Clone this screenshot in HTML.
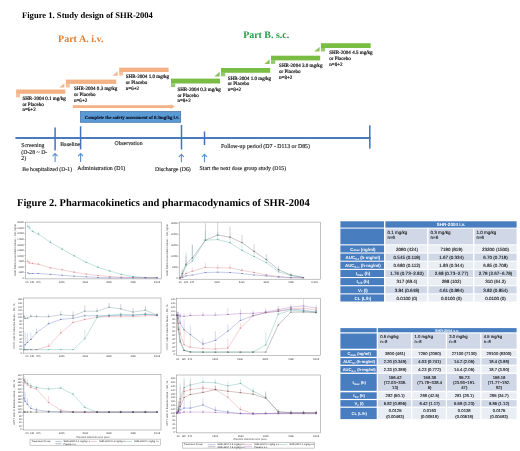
<!DOCTYPE html>
<html><head><meta charset="utf-8"><title>SHR-2004 figures</title>
<style>html,body{margin:0;padding:0;background:#fff;overflow:hidden}svg{display:block;filter:blur(0.42px)}</style>
</head><body>
<svg width="520" height="451" viewBox="0 0 520 451" text-rendering="geometricPrecision">
<rect x="0" y="0" width="520" height="451" fill="#fff"/>
<text x="22" y="18.1" font-size="8.58" fill="#000" font-family="Liberation Serif, serif" font-weight="bold">Figure 1. Study design of SHR-2004</text>
<text x="58" y="41.8" font-size="10.05" fill="#dd7f35" font-family="Liberation Serif, serif" font-weight="bold">Part A. i.v.</text>
<text x="243.2" y="38" font-size="9.92" fill="#22a045" font-family="Liberation Serif, serif" font-weight="bold">Part B. s.c.</text>
<rect x="16.1" y="89.5" width="49.2" height="4.3" fill="#f4b183"/>
<rect x="16.1" y="93.7" width="3.9" height="3.7" fill="#f4b183" opacity="0.8"/>
<text x="22.4" y="99.8" font-size="5.06" fill="#111" font-family="Liberation Serif, serif" stroke="#111" stroke-width="0.2">SHR-2004 0.1 mg/kg</text>
<text x="22.4" y="105.6" font-size="5.06" fill="#111" font-family="Liberation Serif, serif" stroke="#111" stroke-width="0.2">or Placebo</text>
<text x="22.4" y="111.4" font-size="5.06" fill="#111" font-family="Liberation Serif, serif" stroke="#111" stroke-width="0.2">n=6+2</text>
<rect x="65.9" y="79.6" width="50.3" height="4.3" fill="#f4b183"/>
<rect x="65.9" y="83.8" width="3.9" height="3.7" fill="#f4b183" opacity="0.8"/>
<polygon points="64.4,87.6 64.4,83.19999999999999 59.10000000000001,87.6" fill="#f0b894"/>
<text x="74" y="90.2" font-size="5.06" fill="#111" font-family="Liberation Serif, serif" stroke="#111" stroke-width="0.2">SHR-2004 0.3 mg/kg</text>
<text x="74" y="96.0" font-size="5.06" fill="#111" font-family="Liberation Serif, serif" stroke="#111" stroke-width="0.2">or Placebo</text>
<text x="74" y="101.8" font-size="5.06" fill="#111" font-family="Liberation Serif, serif" stroke="#111" stroke-width="0.2">n=6+2</text>
<rect x="119.2" y="67.7" width="49.4" height="4.3" fill="#f4b183"/>
<rect x="119.2" y="71.9" width="3.9" height="3.7" fill="#f4b183" opacity="0.8"/>
<polygon points="117.7,75.7 117.7,71.3 112.4,75.7" fill="#f0b894"/>
<text x="125.8" y="78.1" font-size="5.06" fill="#111" font-family="Liberation Serif, serif" stroke="#111" stroke-width="0.2">SHR-2004 1.0 mg/kg</text>
<text x="125.8" y="83.9" font-size="5.06" fill="#111" font-family="Liberation Serif, serif" stroke="#111" stroke-width="0.2">or Placebo</text>
<text x="125.8" y="89.7" font-size="5.06" fill="#111" font-family="Liberation Serif, serif" stroke="#111" stroke-width="0.2">n=6+2</text>
<rect x="171" y="78.6" width="49" height="4.9" fill="#7abd45"/>
<rect x="171" y="83.4" width="4.2" height="3.6" fill="#7abd45" opacity="0.8"/>
<text x="177.4" y="90.8" font-size="5.06" fill="#111" font-family="Liberation Serif, serif" stroke="#111" stroke-width="0.2">SHR-2004 0.3 mg/kg</text>
<text x="177.4" y="96.6" font-size="5.06" fill="#111" font-family="Liberation Serif, serif" stroke="#111" stroke-width="0.2">or Placebo</text>
<text x="177.4" y="102.4" font-size="5.06" fill="#111" font-family="Liberation Serif, serif" stroke="#111" stroke-width="0.2">n=8+2</text>
<rect x="221" y="68" width="49.2" height="4.8" fill="#7abd45"/>
<rect x="221" y="72.7" width="4.2" height="3.6" fill="#7abd45" opacity="0.8"/>
<polygon points="219.7,76.4 219.7,71.7 214.29999999999998,76.4" fill="#8cc25c"/>
<text x="227.8" y="79.6" font-size="5.06" fill="#111" font-family="Liberation Serif, serif" stroke="#111" stroke-width="0.2">SHR-2004 1.0 mg/kg</text>
<text x="227.8" y="85.4" font-size="5.06" fill="#111" font-family="Liberation Serif, serif" stroke="#111" stroke-width="0.2">or Placebo</text>
<text x="227.8" y="91.2" font-size="5.06" fill="#111" font-family="Liberation Serif, serif" stroke="#111" stroke-width="0.2">n=8+2</text>
<rect x="271" y="55.7" width="49.2" height="4.7" fill="#7abd45"/>
<rect x="271" y="60.300000000000004" width="4.2" height="3.6" fill="#7abd45" opacity="0.8"/>
<polygon points="269.7,64.0 269.7,59.3 264.3,64.0" fill="#8cc25c"/>
<text x="279.1" y="66.9" font-size="5.06" fill="#111" font-family="Liberation Serif, serif" stroke="#111" stroke-width="0.2">SHR-2004 3.0 mg/kg</text>
<text x="279.1" y="72.7" font-size="5.06" fill="#111" font-family="Liberation Serif, serif" stroke="#111" stroke-width="0.2">or Placebo</text>
<text x="279.1" y="78.5" font-size="5.06" fill="#111" font-family="Liberation Serif, serif" stroke="#111" stroke-width="0.2">n=8+2</text>
<rect x="320.9" y="43.2" width="49.7" height="4.8" fill="#7abd45"/>
<rect x="320.9" y="47.9" width="4.2" height="3.6" fill="#7abd45" opacity="0.8"/>
<polygon points="319.59999999999997,51.6 319.59999999999997,46.9 314.2,51.6" fill="#8cc25c"/>
<text x="329.3" y="54.0" font-size="5.06" fill="#111" font-family="Liberation Serif, serif" stroke="#111" stroke-width="0.2">SHR-2004 4.5 mg/kg</text>
<text x="329.3" y="59.8" font-size="5.06" fill="#111" font-family="Liberation Serif, serif" stroke="#111" stroke-width="0.2">or Placebo</text>
<text x="329.3" y="65.6" font-size="5.06" fill="#111" font-family="Liberation Serif, serif" stroke="#111" stroke-width="0.2">n=8+2</text>
<polygon points="72.9,105.3 170.6,105.3 170.6,104.3 174.9,106.6 170.6,108.9 170.6,107.9 72.9,107.9" fill="#f4b183"/>
<rect x="80.5" y="111.6" width="100.2" height="10.7" fill="#5b9bd5" stroke="#3c6ea5" stroke-width="0.7"/>
<text x="132.1" y="119.2" font-size="4.72" fill="#0a1024" font-family="Liberation Serif, serif" font-weight="bold" text-anchor="middle" stroke="#0a1024" stroke-width="0.12">Complete the safety assessment of 0.3mg/kg i.v.</text>
<rect x="15.4" y="137.05" width="355.2" height="1.9" fill="#4274bd"/>
<rect x="54.35" y="127.5" width="1.5" height="22.900000000000006" fill="#4274bd"/>
<rect x="79.85" y="126.3" width="1.5" height="23.10000000000001" fill="#4274bd"/>
<rect x="180.75" y="125" width="1.5" height="24.5" fill="#4274bd"/>
<rect x="203.75" y="131.5" width="1.5" height="13.599999999999994" fill="#4274bd"/>
<rect x="369.05" y="125.3" width="1.5" height="23.299999999999997" fill="#4274bd"/>
<text x="21.3" y="147.0" font-size="5.8" fill="#1e1e1e" font-family="Liberation Serif, serif" stroke="#1e1e1e" stroke-width="0.14">Screening</text>
<text x="21.3" y="153.5" font-size="5.8" fill="#1e1e1e" font-family="Liberation Serif, serif" stroke="#1e1e1e" stroke-width="0.14">(D-28 ~ D-</text>
<text x="21.3" y="160.0" font-size="5.8" fill="#1e1e1e" font-family="Liberation Serif, serif" stroke="#1e1e1e" stroke-width="0.14">2)</text>
<text x="60.2" y="145.6" font-size="5.8" fill="#1e1e1e" font-family="Liberation Serif, serif" textLength="20" lengthAdjust="spacingAndGlyphs" stroke="#1e1e1e" stroke-width="0.14">Baseline</text>
<text x="114.5" y="145" font-size="5.8" fill="#1e1e1e" font-family="Liberation Serif, serif" textLength="28" lengthAdjust="spacingAndGlyphs" stroke="#1e1e1e" stroke-width="0.14">Observation</text>
<text x="221" y="148.3" font-size="5.86" fill="#1e1e1e" font-family="Liberation Serif, serif" stroke="#1e1e1e" stroke-width="0.14">Follow-up period (D7 - D113 or D85)</text>
<path d="M55.1,162 L55.1,153.8 M52.6,156.10000000000002 L55.1,153.60000000000002 L57.6,156.10000000000002" stroke="#558fd4" stroke-width="1.1" fill="none"/>
<path d="M80.6,162 L80.6,153.8 M78.1,156.10000000000002 L80.6,153.60000000000002 L83.1,156.10000000000002" stroke="#558fd4" stroke-width="1.1" fill="none"/>
<path d="M181.4,162.2 L181.4,154.5 M178.9,156.8 L181.4,154.3 L183.9,156.8" stroke="#558fd4" stroke-width="1.1" fill="none"/>
<path d="M204.5,162.2 L204.5,154.5 M202.0,156.8 L204.5,154.3 L207.0,156.8" stroke="#558fd4" stroke-width="1.1" fill="none"/>
<text x="22.3" y="170.6" font-size="5.75" fill="#1e1e1e" font-family="Liberation Serif, serif" stroke="#1e1e1e" stroke-width="0.14">Be hospitalized (D-1)</text>
<text x="77.3" y="169.8" font-size="5.86" fill="#1e1e1e" font-family="Liberation Serif, serif" stroke="#1e1e1e" stroke-width="0.14">Administration (D1)</text>
<text x="155" y="170.8" font-size="5.8" fill="#1e1e1e" font-family="Liberation Serif, serif" stroke="#1e1e1e" stroke-width="0.14">Discharge (D6)</text>
<text x="199.6" y="169.9" font-size="5.76" fill="#1e1e1e" font-family="Liberation Serif, serif" stroke="#1e1e1e" stroke-width="0.14">Start the next dose group study (D15)</text>
<text x="17" y="206" font-size="10.48" fill="#000" font-family="Liberation Serif, serif" font-weight="bold">Figure 2. Pharmacokinetics and pharmacodynamics of SHR-2004</text>
<rect x="25.4" y="222.1" width="135.8" height="56.8" fill="#fff" stroke="#858585" stroke-width="0.5"/>
<rect x="24.3" y="277.85" width="1.1" height="0.3" fill="#666"/>
<text x="23.9" y="278.85" font-size="2.4" fill="#444" font-family="Liberation Sans, sans-serif" text-anchor="end">0</text>
<rect x="24.3" y="272.30" width="1.1" height="0.3" fill="#666"/>
<text x="23.9" y="273.3" font-size="2.4" fill="#444" font-family="Liberation Sans, sans-serif" text-anchor="end">2500</text>
<rect x="24.3" y="266.75" width="1.1" height="0.3" fill="#666"/>
<text x="23.9" y="267.75" font-size="2.4" fill="#444" font-family="Liberation Sans, sans-serif" text-anchor="end">5000</text>
<rect x="24.3" y="261.20" width="1.1" height="0.3" fill="#666"/>
<text x="23.9" y="262.2" font-size="2.4" fill="#444" font-family="Liberation Sans, sans-serif" text-anchor="end">7500</text>
<rect x="24.3" y="255.65" width="1.1" height="0.3" fill="#666"/>
<text x="23.9" y="256.65" font-size="2.4" fill="#444" font-family="Liberation Sans, sans-serif" text-anchor="end">10000</text>
<rect x="24.3" y="250.10" width="1.1" height="0.3" fill="#666"/>
<text x="23.9" y="251.1" font-size="2.4" fill="#444" font-family="Liberation Sans, sans-serif" text-anchor="end">12500</text>
<rect x="24.3" y="244.55" width="1.1" height="0.3" fill="#666"/>
<text x="23.9" y="245.55" font-size="2.4" fill="#444" font-family="Liberation Sans, sans-serif" text-anchor="end">15000</text>
<rect x="24.3" y="239.00" width="1.1" height="0.3" fill="#666"/>
<text x="23.9" y="240.0" font-size="2.4" fill="#444" font-family="Liberation Sans, sans-serif" text-anchor="end">17500</text>
<rect x="24.3" y="233.45" width="1.1" height="0.3" fill="#666"/>
<text x="23.9" y="234.45" font-size="2.4" fill="#444" font-family="Liberation Sans, sans-serif" text-anchor="end">20000</text>
<rect x="24.3" y="227.90" width="1.1" height="0.3" fill="#666"/>
<text x="23.9" y="228.9" font-size="2.4" fill="#444" font-family="Liberation Sans, sans-serif" text-anchor="end">22500</text>
<rect x="24.3" y="222.35" width="1.1" height="0.3" fill="#666"/>
<text x="23.9" y="223.35" font-size="2.4" fill="#444" font-family="Liberation Sans, sans-serif" text-anchor="end">25000</text>
<polyline points="27.7,226.4 29.3,227.9 32.7,231.6 38.5,234.1 50.5,242.4 62.2,249.2 74.2,255.9 86.3,262.4 98.0,267.3 109.7,271.0 121.4,274.4 133.1,276.5 145.4,277.5 157.1,277.8" fill="none" stroke="#2e9e8a" stroke-width="0.34" opacity="0.85"/>
<path d="M27.2,226.4h0.9M28.9,227.9h0.9M32.2,231.6h0.9M38.0,234.1h0.9M50.0,242.4h0.9M61.7,249.2h0.9M73.7,255.9h0.9M85.9,262.4h0.9M97.5,267.3h0.9M109.2,271.0h0.9M120.9,274.4h0.9M132.6,276.5h0.9M144.9,277.5h0.9M156.6,277.8h0.9" stroke="#2e9e8a" stroke-width="0.75" stroke-linecap="round" opacity="0.75" fill="none"/>
<polyline points="27.7,261.5 29.3,263.0 32.7,263.6 38.5,264.2 50.5,267.9 62.2,269.8 74.2,272.2 86.3,274.1 98.0,275.6 109.7,276.5 121.4,277.2 133.1,277.5 145.4,277.8 157.1,277.8" fill="none" stroke="#d0606a" stroke-width="0.34" opacity="0.85"/>
<path d="M27.2,261.5h0.9M28.9,263.0h0.9M32.2,263.6h0.9M38.0,264.2h0.9M50.0,267.9h0.9M61.7,269.8h0.9M73.7,272.2h0.9M85.9,274.1h0.9M97.5,275.6h0.9M109.2,276.5h0.9M120.9,277.2h0.9M132.6,277.5h0.9M144.9,277.8h0.9M156.6,277.8h0.9" stroke="#d0606a" stroke-width="0.75" stroke-linecap="round" opacity="0.75" fill="none"/>
<polyline points="27.7,272.8 29.3,273.5 32.7,273.5 38.5,273.5 50.5,274.4 62.2,275.3 74.2,276.2 86.3,276.8 98.0,277.5 109.7,277.8 121.4,277.8 133.1,277.8 145.4,277.8 157.1,277.8" fill="none" stroke="#3a52b0" stroke-width="0.34" opacity="0.85"/>
<path d="M27.2,272.8h0.9M28.9,273.5h0.9M32.2,273.5h0.9M38.0,273.5h0.9M50.0,274.4h0.9M61.7,275.3h0.9M73.7,276.2h0.9M85.9,276.8h0.9M97.5,277.5h0.9M109.2,277.8h0.9M120.9,277.8h0.9M132.6,277.8h0.9M144.9,277.8h0.9M156.6,277.8h0.9" stroke="#3a52b0" stroke-width="0.75" stroke-linecap="round" opacity="0.75" fill="none"/>
<path d="M27.7,226.4V223.3M29.3,227.9V225.2M32.7,231.6V229.2M38.5,234.1V231.6M50.5,242.4V239.9M62.2,249.2V247.3M74.2,255.9V254.4M86.3,262.4V261.2M98.0,267.3V266.4M109.7,271.0V270.1M121.4,274.4V273.8" stroke="#2e9e8a" stroke-width="0.4" opacity="0.55" fill="none"/>
<path d="M27.7,261.5V259.0M29.3,263.0V261.2M32.7,263.6V262.1M38.5,264.2V262.4M50.5,267.9V266.7M62.2,269.8V268.8M74.2,272.2V271.3M86.3,274.1V273.5" stroke="#d0606a" stroke-width="0.4" opacity="0.55" fill="none"/>
<rect x="179.2" y="222.1" width="141.3" height="57.1" fill="#fff" stroke="#858585" stroke-width="0.5"/>
<rect x="178.1" y="277.95" width="1.1" height="0.3" fill="#666"/>
<text x="177.7" y="278.95" font-size="2.4" fill="#444" font-family="Liberation Sans, sans-serif" text-anchor="end">0</text>
<rect x="178.1" y="266.95" width="1.1" height="0.3" fill="#666"/>
<text x="177.7" y="267.95" font-size="2.4" fill="#444" font-family="Liberation Sans, sans-serif" text-anchor="end">5000</text>
<rect x="178.1" y="255.95" width="1.1" height="0.3" fill="#666"/>
<text x="177.7" y="256.95" font-size="2.4" fill="#444" font-family="Liberation Sans, sans-serif" text-anchor="end">10000</text>
<rect x="178.1" y="244.95" width="1.1" height="0.3" fill="#666"/>
<text x="177.7" y="245.95" font-size="2.4" fill="#444" font-family="Liberation Sans, sans-serif" text-anchor="end">15000</text>
<rect x="178.1" y="233.95" width="1.1" height="0.3" fill="#666"/>
<text x="177.7" y="234.95" font-size="2.4" fill="#444" font-family="Liberation Sans, sans-serif" text-anchor="end">20000</text>
<rect x="178.1" y="222.95" width="1.1" height="0.3" fill="#666"/>
<text x="177.7" y="223.95" font-size="2.4" fill="#444" font-family="Liberation Sans, sans-serif" text-anchor="end">25000</text>
<polyline points="180.2,277.8 182.3,273.5 186.0,264.2 192.3,258.1 205.4,240.2 217.7,235.0 230.0,237.2 242.0,242.7 254.0,251.3 266.3,259.6 278.6,269.8 290.9,275.0 303.2,277.5" fill="none" stroke="#333" stroke-width="0.34" opacity="0.85"/>
<path d="M179.7,277.8h0.9M181.9,273.5h0.9M185.6,264.2h0.9M191.9,258.1h0.9M204.9,240.2h0.9M217.2,235.0h0.9M229.6,237.2h0.9M241.6,242.7h0.9M253.6,251.3h0.9M265.9,259.6h0.9M278.2,269.8h0.9M290.5,275.0h0.9M302.8,277.5h0.9" stroke="#333" stroke-width="0.75" stroke-linecap="round" opacity="0.75" fill="none"/>
<polyline points="180.2,277.8 182.3,275.0 186.0,265.8 192.3,261.2 205.4,240.2 217.7,239.6 230.0,242.7 242.0,250.4 254.0,256.5 266.3,262.7 278.6,271.9 290.9,275.6 303.2,277.5" fill="none" stroke="#2e9e8a" stroke-width="0.34" opacity="0.85"/>
<path d="M179.7,277.8h0.9M181.9,275.0h0.9M185.6,265.8h0.9M191.9,261.2h0.9M204.9,240.2h0.9M217.2,239.6h0.9M229.6,242.7h0.9M241.6,250.4h0.9M253.6,256.5h0.9M265.9,262.7h0.9M278.2,271.9h0.9M290.5,275.6h0.9M302.8,277.5h0.9" stroke="#2e9e8a" stroke-width="0.75" stroke-linecap="round" opacity="0.75" fill="none"/>
<polyline points="180.2,277.8 182.3,276.5 186.0,273.5 192.3,271.3 205.4,267.3 217.7,267.9 230.0,267.9 242.0,270.4 254.0,272.5 266.3,275.0 278.6,276.5 290.9,277.5 303.2,277.8" fill="none" stroke="#d0606a" stroke-width="0.34" opacity="0.85"/>
<path d="M179.7,277.8h0.9M181.9,276.5h0.9M185.6,273.5h0.9M191.9,271.3h0.9M204.9,267.3h0.9M217.2,267.9h0.9M229.6,267.9h0.9M241.6,270.4h0.9M253.6,272.5h0.9M265.9,275.0h0.9M278.2,276.5h0.9M290.5,277.5h0.9M302.8,277.8h0.9" stroke="#d0606a" stroke-width="0.75" stroke-linecap="round" opacity="0.75" fill="none"/>
<polyline points="180.2,277.8 182.3,277.5 186.0,275.9 192.3,275.0 205.4,272.5 217.7,272.2 230.0,272.5 242.0,273.5 254.0,275.0 266.3,275.9 278.6,277.2 290.9,277.8 303.2,277.8" fill="none" stroke="#3a52b0" stroke-width="0.34" opacity="0.85"/>
<path d="M179.7,277.8h0.9M181.9,277.5h0.9M185.6,275.9h0.9M191.9,275.0h0.9M204.9,272.5h0.9M217.2,272.2h0.9M229.6,272.5h0.9M241.6,273.5h0.9M253.6,275.0h0.9M265.9,275.9h0.9M278.2,277.2h0.9M290.5,277.8h0.9M302.8,277.8h0.9" stroke="#3a52b0" stroke-width="0.75" stroke-linecap="round" opacity="0.75" fill="none"/>
<path d="M182.3,273.5V270.4M186.0,264.2V255.6M192.3,258.1V244.2M205.4,240.2V223.3M217.7,235.0V222.5M230.0,237.2V226.4M242.0,242.7V235.0M254.0,251.3V244.5M266.3,259.6V254.1M278.6,269.8V266.1M290.9,275.0V273.2" stroke="#333" stroke-width="0.4" opacity="0.55" fill="none"/>
<path d="M182.3,275.0V267.3M186.0,265.8V251.9M192.3,261.2V245.8M205.4,240.2V231.0M217.7,239.6V231.9M230.0,242.7V236.5M242.0,250.4V244.8M254.0,256.5V251.9M266.3,262.7V259.0M278.6,271.9V269.5M290.9,275.6V274.1" stroke="#2e9e8a" stroke-width="0.4" opacity="0.55" fill="none"/>
<path d="M182.3,276.5V275.0M186.0,273.5V270.4M192.3,271.3V267.6M205.4,267.3V263.0M217.7,267.9V264.2M230.0,267.9V264.2M242.0,270.4V267.9M254.0,272.5V270.7M266.3,275.0V273.5M278.6,276.5V275.6" stroke="#d0606a" stroke-width="0.4" opacity="0.55" fill="none"/>
<rect x="23.4" y="298.0" width="137.6" height="55.1" fill="#fff" stroke="#858585" stroke-width="0.5"/>
<rect x="22.3" y="353.05" width="1.1" height="0.3" fill="#666"/>
<text x="21.9" y="354.05" font-size="2.4" fill="#444" font-family="Liberation Sans, sans-serif" text-anchor="end">0</text>
<rect x="22.3" y="349.47" width="1.1" height="0.3" fill="#666"/>
<text x="21.9" y="350.47" font-size="2.4" fill="#444" font-family="Liberation Sans, sans-serif" text-anchor="end">10</text>
<rect x="22.3" y="345.89" width="1.1" height="0.3" fill="#666"/>
<text x="21.9" y="346.89" font-size="2.4" fill="#444" font-family="Liberation Sans, sans-serif" text-anchor="end">20</text>
<rect x="22.3" y="342.31" width="1.1" height="0.3" fill="#666"/>
<text x="21.9" y="343.31" font-size="2.4" fill="#444" font-family="Liberation Sans, sans-serif" text-anchor="end">30</text>
<rect x="22.3" y="338.73" width="1.1" height="0.3" fill="#666"/>
<text x="21.9" y="339.73" font-size="2.4" fill="#444" font-family="Liberation Sans, sans-serif" text-anchor="end">40</text>
<rect x="22.3" y="335.15" width="1.1" height="0.3" fill="#666"/>
<text x="21.9" y="336.15" font-size="2.4" fill="#444" font-family="Liberation Sans, sans-serif" text-anchor="end">50</text>
<rect x="22.3" y="331.57" width="1.1" height="0.3" fill="#666"/>
<text x="21.9" y="332.57" font-size="2.4" fill="#444" font-family="Liberation Sans, sans-serif" text-anchor="end">60</text>
<rect x="22.3" y="327.99" width="1.1" height="0.3" fill="#666"/>
<text x="21.9" y="328.99" font-size="2.4" fill="#444" font-family="Liberation Sans, sans-serif" text-anchor="end">70</text>
<rect x="22.3" y="324.41" width="1.1" height="0.3" fill="#666"/>
<text x="21.9" y="325.41" font-size="2.4" fill="#444" font-family="Liberation Sans, sans-serif" text-anchor="end">80</text>
<rect x="22.3" y="320.83" width="1.1" height="0.3" fill="#666"/>
<text x="21.9" y="321.83" font-size="2.4" fill="#444" font-family="Liberation Sans, sans-serif" text-anchor="end">90</text>
<rect x="22.3" y="317.25" width="1.1" height="0.3" fill="#666"/>
<text x="21.9" y="318.25" font-size="2.4" fill="#444" font-family="Liberation Sans, sans-serif" text-anchor="end">100</text>
<rect x="22.3" y="313.67" width="1.1" height="0.3" fill="#666"/>
<text x="21.9" y="314.67" font-size="2.4" fill="#444" font-family="Liberation Sans, sans-serif" text-anchor="end">110</text>
<rect x="22.3" y="310.09" width="1.1" height="0.3" fill="#666"/>
<text x="21.9" y="311.09" font-size="2.4" fill="#444" font-family="Liberation Sans, sans-serif" text-anchor="end">120</text>
<rect x="22.3" y="306.51" width="1.1" height="0.3" fill="#666"/>
<text x="21.9" y="307.51" font-size="2.4" fill="#444" font-family="Liberation Sans, sans-serif" text-anchor="end">130</text>
<rect x="22.3" y="302.93" width="1.1" height="0.3" fill="#666"/>
<text x="21.9" y="303.93" font-size="2.4" fill="#444" font-family="Liberation Sans, sans-serif" text-anchor="end">140</text>
<rect x="22.3" y="299.35" width="1.1" height="0.3" fill="#666"/>
<text x="21.9" y="300.35" font-size="2.4" fill="#444" font-family="Liberation Sans, sans-serif" text-anchor="end">150</text>
<polyline points="24.0,316.7 25.1,318.5 27.4,318.2 30.8,316.4 36.5,316.7 48.6,316.7 60.8,314.8 73.1,315.8 84.8,311.2 97.1,311.2 109.1,307.2 120.8,309.0 133.1,312.1 145.4,310.2 157.1,315.2" fill="none" stroke="#4f747a" stroke-width="0.34" opacity="0.85"/>
<path d="M23.6,316.7h0.9M24.6,318.5h0.9M27.0,318.2h0.9M30.4,316.4h0.9M36.0,316.7h0.9M48.2,316.7h0.9M60.3,314.8h0.9M72.6,315.8h0.9M84.3,311.2h0.9M96.6,311.2h0.9M108.6,307.2h0.9M120.3,309.0h0.9M132.6,312.1h0.9M144.9,310.2h0.9M156.6,315.2h0.9" stroke="#4f747a" stroke-width="0.75" stroke-linecap="round" opacity="0.75" fill="none"/>
<polyline points="24.0,349.6 25.1,344.7 27.4,342.5 30.8,339.5 36.5,332.7 48.6,323.8 60.8,319.5 73.1,318.2 84.8,315.8 97.1,315.8 109.1,315.8 120.8,315.2 133.1,315.2 145.4,314.2 157.1,315.2" fill="none" stroke="#3a52b0" stroke-width="0.34" opacity="0.85"/>
<path d="M23.6,349.6h0.9M24.6,344.7h0.9M27.0,342.5h0.9M30.4,339.5h0.9M36.0,332.7h0.9M48.2,323.8h0.9M60.3,319.5h0.9M72.6,318.2h0.9M84.3,315.8h0.9M96.6,315.8h0.9M108.6,315.8h0.9M120.3,315.2h0.9M132.6,315.2h0.9M144.9,314.2h0.9M156.6,315.2h0.9" stroke="#3a52b0" stroke-width="0.75" stroke-linecap="round" opacity="0.75" fill="none"/>
<polyline points="24.0,349.6 25.1,349.6 27.4,349.6 30.8,349.6 36.5,349.6 48.6,346.2 60.8,333.0 73.1,322.5 84.8,319.5 97.1,317.3 109.1,316.7 120.8,316.7 133.1,316.7 145.4,315.8 157.1,315.8" fill="none" stroke="#d0606a" stroke-width="0.34" opacity="0.85"/>
<path d="M23.6,349.6h0.9M24.6,349.6h0.9M27.0,349.6h0.9M30.4,349.6h0.9M36.0,349.6h0.9M48.2,346.2h0.9M60.3,333.0h0.9M72.6,322.5h0.9M84.3,319.5h0.9M96.6,317.3h0.9M108.6,316.7h0.9M120.3,316.7h0.9M132.6,316.7h0.9M144.9,315.8h0.9M156.6,315.8h0.9" stroke="#d0606a" stroke-width="0.75" stroke-linecap="round" opacity="0.75" fill="none"/>
<polyline points="24.0,349.6 25.1,349.6 27.4,349.6 30.8,349.6 36.5,349.6 48.6,349.6 60.8,349.6 73.1,349.6 84.8,338.8 97.1,317.3 109.1,315.2 120.8,314.2 133.1,315.2 145.4,314.2 157.1,315.2" fill="none" stroke="#2e9e8a" stroke-width="0.34" opacity="0.85"/>
<path d="M23.6,349.6h0.9M24.6,349.6h0.9M27.0,349.6h0.9M30.4,349.6h0.9M36.0,349.6h0.9M48.2,349.6h0.9M60.3,349.6h0.9M72.6,349.6h0.9M84.3,338.8h0.9M96.6,317.3h0.9M108.6,315.2h0.9M120.3,314.2h0.9M132.6,315.2h0.9M144.9,314.2h0.9M156.6,315.2h0.9" stroke="#2e9e8a" stroke-width="0.75" stroke-linecap="round" opacity="0.75" fill="none"/>
<path d="M24.0,316.7V314.8M25.1,318.5V316.7M27.4,318.2V316.4M30.8,316.4V314.5M36.5,316.7V314.8M48.6,316.7V314.2M60.8,314.8V311.2M73.1,315.8V311.5M84.8,311.2V305.6M97.1,311.2V308.1M109.1,307.2V302.8M120.8,309.0V304.1M133.1,312.1V308.4M145.4,310.2V305.9M157.1,315.2V312.7" stroke="#333" stroke-width="0.4" opacity="0.55" fill="none"/>
<path d="M25.1,344.7V332.4M27.4,342.5V333.3M30.8,339.5V332.7M36.5,332.7V328.4M48.6,323.8V321.3M60.8,319.5V317.6M73.1,318.2V316.4M84.8,315.8V314.2M97.1,315.8V314.5M109.1,315.8V314.5M120.8,315.2V313.9M133.1,315.2V313.9M145.4,314.2V313.0M157.1,315.2V313.9" stroke="#3a52b0" stroke-width="0.4" opacity="0.55" fill="none"/>
<path d="M48.6,346.2V343.2M60.8,333.0V329.3M73.1,322.5V320.1M84.8,319.5V317.9M97.1,317.3V316.1M109.1,316.7V315.8M120.8,316.7V315.8M133.1,316.7V315.8M145.4,315.8V314.8M157.1,315.8V314.8" stroke="#d0606a" stroke-width="0.4" opacity="0.55" fill="none"/>
<path d="M84.8,338.8V330.2M97.1,317.3V314.8M109.1,315.2V313.3M120.8,314.2V312.4M133.1,315.2V313.3M145.4,314.2V312.4M157.1,315.2V313.3" stroke="#2e9e8a" stroke-width="0.4" opacity="0.55" fill="none"/>
<rect x="176.3" y="298.2" width="144.2" height="57.2" fill="#fff" stroke="#858585" stroke-width="0.5"/>
<rect x="175.2" y="354.45" width="1.1" height="0.3" fill="#666"/>
<text x="174.8" y="355.45" font-size="2.4" fill="#444" font-family="Liberation Sans, sans-serif" text-anchor="end">0</text>
<rect x="175.2" y="350.51" width="1.1" height="0.3" fill="#666"/>
<text x="174.8" y="351.51" font-size="2.4" fill="#444" font-family="Liberation Sans, sans-serif" text-anchor="end">10</text>
<rect x="175.2" y="346.58" width="1.1" height="0.3" fill="#666"/>
<text x="174.8" y="347.58" font-size="2.4" fill="#444" font-family="Liberation Sans, sans-serif" text-anchor="end">20</text>
<rect x="175.2" y="342.64" width="1.1" height="0.3" fill="#666"/>
<text x="174.8" y="343.64" font-size="2.4" fill="#444" font-family="Liberation Sans, sans-serif" text-anchor="end">30</text>
<rect x="175.2" y="338.71" width="1.1" height="0.3" fill="#666"/>
<text x="174.8" y="339.71" font-size="2.4" fill="#444" font-family="Liberation Sans, sans-serif" text-anchor="end">40</text>
<rect x="175.2" y="334.77" width="1.1" height="0.3" fill="#666"/>
<text x="174.8" y="335.77" font-size="2.4" fill="#444" font-family="Liberation Sans, sans-serif" text-anchor="end">50</text>
<rect x="175.2" y="330.84" width="1.1" height="0.3" fill="#666"/>
<text x="174.8" y="331.84" font-size="2.4" fill="#444" font-family="Liberation Sans, sans-serif" text-anchor="end">60</text>
<rect x="175.2" y="326.90" width="1.1" height="0.3" fill="#666"/>
<text x="174.8" y="327.9" font-size="2.4" fill="#444" font-family="Liberation Sans, sans-serif" text-anchor="end">70</text>
<rect x="175.2" y="322.96" width="1.1" height="0.3" fill="#666"/>
<text x="174.8" y="323.96" font-size="2.4" fill="#444" font-family="Liberation Sans, sans-serif" text-anchor="end">80</text>
<rect x="175.2" y="319.03" width="1.1" height="0.3" fill="#666"/>
<text x="174.8" y="320.03" font-size="2.4" fill="#444" font-family="Liberation Sans, sans-serif" text-anchor="end">90</text>
<rect x="175.2" y="315.09" width="1.1" height="0.3" fill="#666"/>
<text x="174.8" y="316.09" font-size="2.4" fill="#444" font-family="Liberation Sans, sans-serif" text-anchor="end">100</text>
<rect x="175.2" y="311.16" width="1.1" height="0.3" fill="#666"/>
<text x="174.8" y="312.16" font-size="2.4" fill="#444" font-family="Liberation Sans, sans-serif" text-anchor="end">110</text>
<rect x="175.2" y="307.22" width="1.1" height="0.3" fill="#666"/>
<text x="174.8" y="308.22" font-size="2.4" fill="#444" font-family="Liberation Sans, sans-serif" text-anchor="end">120</text>
<rect x="175.2" y="303.29" width="1.1" height="0.3" fill="#666"/>
<text x="174.8" y="304.29" font-size="2.4" fill="#444" font-family="Liberation Sans, sans-serif" text-anchor="end">130</text>
<rect x="175.2" y="299.35" width="1.1" height="0.3" fill="#666"/>
<text x="174.8" y="300.35" font-size="2.4" fill="#444" font-family="Liberation Sans, sans-serif" text-anchor="end">140</text>
<polyline points="177.1,315.2 178.3,315.5 180.2,316.1 184.1,316.4 190.3,315.5 202.9,315.2 215.4,315.2 227.8,314.5 240.5,313.6 253.1,313.3 265.7,312.1 278.3,309.6 290.9,307.2 303.5,305.9 316.2,308.1" fill="none" stroke="#8a4aa8" stroke-width="0.34" opacity="0.85"/>
<path d="M176.6,315.2h0.9M177.9,315.5h0.9M179.7,316.1h0.9M183.6,316.4h0.9M189.9,315.5h0.9M202.5,315.2h0.9M215.0,315.2h0.9M227.4,314.5h0.9M240.0,313.6h0.9M252.6,313.3h0.9M265.2,312.1h0.9M277.9,309.6h0.9M290.5,307.2h0.9M303.1,305.9h0.9M315.7,308.1h0.9" stroke="#8a4aa8" stroke-width="0.75" stroke-linecap="round" opacity="0.75" fill="none"/>
<polyline points="177.1,315.2 178.3,318.2 180.2,323.2 184.1,329.9 190.3,334.5 202.9,344.1 215.4,340.4 227.8,331.2 240.5,320.4 253.1,315.8 265.7,312.7 278.3,311.2 290.9,309.0 303.5,310.2 316.2,312.1" fill="none" stroke="#3a52b0" stroke-width="0.34" opacity="0.85"/>
<path d="M176.6,315.2h0.9M177.9,318.2h0.9M179.7,323.2h0.9M183.6,329.9h0.9M189.9,334.5h0.9M202.5,344.1h0.9M215.0,340.4h0.9M227.4,331.2h0.9M240.0,320.4h0.9M252.6,315.8h0.9M265.2,312.7h0.9M277.9,311.2h0.9M290.5,309.0h0.9M303.1,310.2h0.9M315.7,312.1h0.9" stroke="#3a52b0" stroke-width="0.75" stroke-linecap="round" opacity="0.75" fill="none"/>
<polyline points="177.1,315.2 178.3,323.5 180.2,333.9 184.1,344.7 190.3,347.2 202.9,348.7 215.4,349.0 227.8,348.1 240.5,328.1 253.1,315.8 265.7,312.7 278.3,311.2 290.9,309.0 303.5,308.1 316.2,310.2" fill="none" stroke="#d0606a" stroke-width="0.34" opacity="0.85"/>
<path d="M176.6,315.2h0.9M177.9,323.5h0.9M179.7,333.9h0.9M183.6,344.7h0.9M189.9,347.2h0.9M202.5,348.7h0.9M215.0,349.0h0.9M227.4,348.1h0.9M240.0,328.1h0.9M252.6,315.8h0.9M265.2,312.7h0.9M277.9,311.2h0.9M290.5,309.0h0.9M303.1,308.1h0.9M315.7,310.2h0.9" stroke="#d0606a" stroke-width="0.75" stroke-linecap="round" opacity="0.75" fill="none"/>
<polyline points="177.1,315.2 178.3,328.1 180.2,340.1 184.1,350.2 190.3,351.8 202.9,352.1 215.4,352.1 227.8,352.1 240.5,352.1 253.1,352.1 265.7,345.0 278.3,314.2 290.9,310.2 303.5,311.2 316.2,312.1" fill="none" stroke="#2e9e8a" stroke-width="0.34" opacity="0.85"/>
<path d="M176.6,315.2h0.9M177.9,328.1h0.9M179.7,340.1h0.9M183.6,350.2h0.9M189.9,351.8h0.9M202.5,352.1h0.9M215.0,352.1h0.9M227.4,352.1h0.9M240.0,352.1h0.9M252.6,352.1h0.9M265.2,345.0h0.9M277.9,314.2h0.9M290.5,310.2h0.9M303.1,311.2h0.9M315.7,312.1h0.9" stroke="#2e9e8a" stroke-width="0.75" stroke-linecap="round" opacity="0.75" fill="none"/>
<polyline points="177.1,315.2 178.3,329.6 180.2,341.9 184.1,350.5 190.3,352.1 202.9,352.1 215.4,352.1 227.8,352.1 240.5,352.1 253.1,352.1 265.7,352.1 278.3,325.0 290.9,312.1 303.5,312.1 316.2,312.7" fill="none" stroke="#333" stroke-width="0.34" opacity="0.85"/>
<path d="M176.6,315.2h0.9M177.9,329.6h0.9M179.7,341.9h0.9M183.6,350.5h0.9M189.9,352.1h0.9M202.5,352.1h0.9M215.0,352.1h0.9M227.4,352.1h0.9M240.0,352.1h0.9M252.6,352.1h0.9M265.2,352.1h0.9M277.9,325.0h0.9M290.5,312.1h0.9M303.1,312.1h0.9M315.7,312.7h0.9" stroke="#333" stroke-width="0.75" stroke-linecap="round" opacity="0.75" fill="none"/>
<path d="M177.1,315.2V312.1M178.3,315.5V312.4M180.2,316.1V313.0M184.1,316.4V313.3M190.3,315.5V312.4M202.9,315.2V312.1M215.4,315.2V312.1M227.8,314.5V307.8M240.5,313.6V309.3M253.1,313.3V310.2M265.7,312.1V308.4M278.3,309.6V305.9M290.9,307.2V304.1M303.5,305.9V299.2M316.2,308.1V305.0" stroke="#8a4aa8" stroke-width="0.4" opacity="0.55" fill="none"/>
<path d="M177.1,315.2V311.5M178.3,318.2V312.1M180.2,323.2V313.9M184.1,329.9V319.2M190.3,334.5V325.3M202.9,344.1V338.5M215.4,340.4V331.2M227.8,331.2V324.4M240.5,320.4V314.2M253.1,315.8V312.7M265.7,312.7V310.2M278.3,311.2V308.7M290.9,309.0V306.5M303.5,310.2V307.8M316.2,312.1V309.6" stroke="#3a52b0" stroke-width="0.4" opacity="0.55" fill="none"/>
<path d="M177.1,315.2V311.5M178.3,323.5V314.2M180.2,333.9V321.6M184.1,344.7V329.3M190.3,347.2V334.8M202.9,348.7V341.0M215.4,349.0V342.8M227.8,348.1V338.8M240.5,328.1V323.5M253.1,315.8V313.3M265.7,312.7V310.8M278.3,311.2V309.3M290.9,309.0V307.2M303.5,308.1V306.2M316.2,310.2V308.4" stroke="#d0606a" stroke-width="0.4" opacity="0.55" fill="none"/>
<path d="M265.7,345.0V332.7M278.3,314.2V308.1M290.9,310.2V307.8M303.5,311.2V308.7M316.2,312.1V309.6" stroke="#2e9e8a" stroke-width="0.4" opacity="0.55" fill="none"/>
<rect x="23.2" y="374.3" width="137.8" height="55.7" fill="#fff" stroke="#858585" stroke-width="0.5"/>
<rect x="22.1" y="429.15" width="1.1" height="0.3" fill="#666"/>
<text x="21.7" y="430.15" font-size="2.4" fill="#444" font-family="Liberation Sans, sans-serif" text-anchor="end">0</text>
<rect x="22.1" y="425.79" width="1.1" height="0.3" fill="#666"/>
<text x="21.7" y="426.79" font-size="2.4" fill="#444" font-family="Liberation Sans, sans-serif" text-anchor="end">20</text>
<rect x="22.1" y="422.43" width="1.1" height="0.3" fill="#666"/>
<text x="21.7" y="423.43" font-size="2.4" fill="#444" font-family="Liberation Sans, sans-serif" text-anchor="end">40</text>
<rect x="22.1" y="419.06" width="1.1" height="0.3" fill="#666"/>
<text x="21.7" y="420.06" font-size="2.4" fill="#444" font-family="Liberation Sans, sans-serif" text-anchor="end">60</text>
<rect x="22.1" y="415.70" width="1.1" height="0.3" fill="#666"/>
<text x="21.7" y="416.7" font-size="2.4" fill="#444" font-family="Liberation Sans, sans-serif" text-anchor="end">80</text>
<rect x="22.1" y="412.34" width="1.1" height="0.3" fill="#666"/>
<text x="21.7" y="413.34" font-size="2.4" fill="#444" font-family="Liberation Sans, sans-serif" text-anchor="end">100</text>
<rect x="22.1" y="408.98" width="1.1" height="0.3" fill="#666"/>
<text x="21.7" y="409.98" font-size="2.4" fill="#444" font-family="Liberation Sans, sans-serif" text-anchor="end">120</text>
<rect x="22.1" y="405.61" width="1.1" height="0.3" fill="#666"/>
<text x="21.7" y="406.61" font-size="2.4" fill="#444" font-family="Liberation Sans, sans-serif" text-anchor="end">140</text>
<rect x="22.1" y="402.25" width="1.1" height="0.3" fill="#666"/>
<text x="21.7" y="403.25" font-size="2.4" fill="#444" font-family="Liberation Sans, sans-serif" text-anchor="end">160</text>
<rect x="22.1" y="398.89" width="1.1" height="0.3" fill="#666"/>
<text x="21.7" y="399.89" font-size="2.4" fill="#444" font-family="Liberation Sans, sans-serif" text-anchor="end">180</text>
<rect x="22.1" y="395.53" width="1.1" height="0.3" fill="#666"/>
<text x="21.7" y="396.53" font-size="2.4" fill="#444" font-family="Liberation Sans, sans-serif" text-anchor="end">200</text>
<rect x="22.1" y="392.16" width="1.1" height="0.3" fill="#666"/>
<text x="21.7" y="393.16" font-size="2.4" fill="#444" font-family="Liberation Sans, sans-serif" text-anchor="end">220</text>
<rect x="22.1" y="388.80" width="1.1" height="0.3" fill="#666"/>
<text x="21.7" y="389.8" font-size="2.4" fill="#444" font-family="Liberation Sans, sans-serif" text-anchor="end">240</text>
<rect x="22.1" y="385.44" width="1.1" height="0.3" fill="#666"/>
<text x="21.7" y="386.44" font-size="2.4" fill="#444" font-family="Liberation Sans, sans-serif" text-anchor="end">260</text>
<rect x="22.1" y="382.08" width="1.1" height="0.3" fill="#666"/>
<text x="21.7" y="383.08" font-size="2.4" fill="#444" font-family="Liberation Sans, sans-serif" text-anchor="end">280</text>
<rect x="22.1" y="378.71" width="1.1" height="0.3" fill="#666"/>
<text x="21.7" y="379.71" font-size="2.4" fill="#444" font-family="Liberation Sans, sans-serif" text-anchor="end">300</text>
<rect x="22.1" y="375.35" width="1.1" height="0.3" fill="#666"/>
<text x="21.7" y="376.35" font-size="2.4" fill="#444" font-family="Liberation Sans, sans-serif" text-anchor="end">320</text>
<polyline points="24.0,379.8 25.1,381.9 27.4,383.5 30.8,385.9 36.5,387.5 48.6,389.0 60.8,388.1 73.1,394.2 84.8,407.5 97.1,412.1 109.1,412.1 120.8,412.1 133.1,412.1 145.4,412.1 157.1,412.1" fill="none" stroke="#2e9e8a" stroke-width="0.34" opacity="0.85"/>
<path d="M23.6,379.8h0.9M24.6,381.9h0.9M27.0,383.5h0.9M30.4,385.9h0.9M36.0,387.5h0.9M48.2,389.0h0.9M60.3,388.1h0.9M72.6,394.2h0.9M84.3,407.5h0.9M96.6,412.1h0.9M108.6,412.1h0.9M120.3,412.1h0.9M132.6,412.1h0.9M144.9,412.1h0.9M156.6,412.1h0.9" stroke="#2e9e8a" stroke-width="0.75" stroke-linecap="round" opacity="0.75" fill="none"/>
<polyline points="24.0,380.4 25.1,382.8 27.4,385.0 30.8,387.5 36.5,389.0 48.6,402.5 60.8,410.2 73.1,412.1 84.8,412.1 97.1,412.1 109.1,412.1 120.8,412.1 133.1,412.1 145.4,412.1 157.1,412.1" fill="none" stroke="#d0606a" stroke-width="0.34" opacity="0.85"/>
<path d="M23.6,380.4h0.9M24.6,382.8h0.9M27.0,385.0h0.9M30.4,387.5h0.9M36.0,389.0h0.9M48.2,402.5h0.9M60.3,410.2h0.9M72.6,412.1h0.9M84.3,412.1h0.9M96.6,412.1h0.9M108.6,412.1h0.9M120.3,412.1h0.9M132.6,412.1h0.9M144.9,412.1h0.9M156.6,412.1h0.9" stroke="#d0606a" stroke-width="0.75" stroke-linecap="round" opacity="0.75" fill="none"/>
<polyline points="24.0,398.2 25.1,401.3 27.4,404.4 30.8,408.4 36.5,409.9 48.6,411.5 60.8,411.8 73.1,412.1 84.8,412.1 97.1,412.1 109.1,412.1 120.8,412.1 133.1,412.1 145.4,412.1 157.1,412.1" fill="none" stroke="#3a52b0" stroke-width="0.34" opacity="0.85"/>
<path d="M23.6,398.2h0.9M24.6,401.3h0.9M27.0,404.4h0.9M30.4,408.4h0.9M36.0,409.9h0.9M48.2,411.5h0.9M60.3,411.8h0.9M72.6,412.1h0.9M84.3,412.1h0.9M96.6,412.1h0.9M108.6,412.1h0.9M120.3,412.1h0.9M132.6,412.1h0.9M144.9,412.1h0.9M156.6,412.1h0.9" stroke="#3a52b0" stroke-width="0.75" stroke-linecap="round" opacity="0.75" fill="none"/>
<polyline points="24.0,412.1 25.1,412.1 27.4,412.1 30.8,412.1 36.5,412.1 48.6,412.1 60.8,412.1 73.1,412.1 84.8,412.1 97.1,412.1 109.1,412.1 120.8,412.1 133.1,412.1 145.4,412.1 157.1,412.1" fill="none" stroke="#333" stroke-width="0.34" opacity="0.85"/>
<path d="M23.6,412.1h0.9M24.6,412.1h0.9M27.0,412.1h0.9M30.4,412.1h0.9M36.0,412.1h0.9M48.2,412.1h0.9M60.3,412.1h0.9M72.6,412.1h0.9M84.3,412.1h0.9M96.6,412.1h0.9M108.6,412.1h0.9M120.3,412.1h0.9M132.6,412.1h0.9M144.9,412.1h0.9M156.6,412.1h0.9" stroke="#333" stroke-width="0.75" stroke-linecap="round" opacity="0.75" fill="none"/>
<path d="M24.0,379.8V376.1M25.1,381.9V378.2M27.4,383.5V379.2M30.8,385.9V382.8M36.5,387.5V385.6M48.6,389.0V387.2M60.8,388.1V386.2M73.1,394.2V392.4M84.8,407.5V405.0M97.1,412.1V410.8M109.1,412.1V410.8M120.8,412.1V410.8M133.1,412.1V410.8M145.4,412.1V410.8M157.1,412.1V410.8" stroke="#2e9e8a" stroke-width="0.4" opacity="0.55" fill="none"/>
<path d="M24.0,380.4V377.3M25.1,382.8V379.8M27.4,385.0V381.9M30.8,387.5V385.0M36.5,389.0V387.2M48.6,402.5V395.8M60.8,410.2V409.0M73.1,412.1V410.8M84.8,412.1V410.8M97.1,412.1V410.8M109.1,412.1V410.8M120.8,412.1V410.8M133.1,412.1V410.8M145.4,412.1V410.8M157.1,412.1V410.8" stroke="#d0606a" stroke-width="0.4" opacity="0.55" fill="none"/>
<path d="M24.0,398.2V382.8M25.1,401.3V392.1M27.4,404.4V398.2M30.8,408.4V405.3M36.5,409.9V407.5M48.6,411.5V410.2" stroke="#3a52b0" stroke-width="0.4" opacity="0.55" fill="none"/>
<path d="M24.0,412.1V410.8M25.1,412.1V410.8M27.4,412.1V410.8M30.8,412.1V410.8M36.5,412.1V410.8M48.6,412.1V410.8M60.8,412.1V410.8M73.1,412.1V410.8M84.8,412.1V410.8M97.1,412.1V410.8M109.1,412.1V410.8M120.8,412.1V410.8M133.1,412.1V410.8M145.4,412.1V410.8M157.1,412.1V410.8" stroke="#333" stroke-width="0.4" opacity="0.55" fill="none"/>
<rect x="176.3" y="375.0" width="144.2" height="57.9" fill="#fff" stroke="#858585" stroke-width="0.5"/>
<rect x="175.2" y="431.55" width="1.1" height="0.3" fill="#666"/>
<text x="174.8" y="432.55" font-size="2.4" fill="#444" font-family="Liberation Sans, sans-serif" text-anchor="end">0</text>
<rect x="175.2" y="427.76" width="1.1" height="0.3" fill="#666"/>
<text x="174.8" y="428.76" font-size="2.4" fill="#444" font-family="Liberation Sans, sans-serif" text-anchor="end">20</text>
<rect x="175.2" y="423.96" width="1.1" height="0.3" fill="#666"/>
<text x="174.8" y="424.96" font-size="2.4" fill="#444" font-family="Liberation Sans, sans-serif" text-anchor="end">40</text>
<rect x="175.2" y="420.17" width="1.1" height="0.3" fill="#666"/>
<text x="174.8" y="421.17" font-size="2.4" fill="#444" font-family="Liberation Sans, sans-serif" text-anchor="end">60</text>
<rect x="175.2" y="416.38" width="1.1" height="0.3" fill="#666"/>
<text x="174.8" y="417.38" font-size="2.4" fill="#444" font-family="Liberation Sans, sans-serif" text-anchor="end">80</text>
<rect x="175.2" y="412.59" width="1.1" height="0.3" fill="#666"/>
<text x="174.8" y="413.59" font-size="2.4" fill="#444" font-family="Liberation Sans, sans-serif" text-anchor="end">100</text>
<rect x="175.2" y="408.79" width="1.1" height="0.3" fill="#666"/>
<text x="174.8" y="409.79" font-size="2.4" fill="#444" font-family="Liberation Sans, sans-serif" text-anchor="end">120</text>
<rect x="175.2" y="405.00" width="1.1" height="0.3" fill="#666"/>
<text x="174.8" y="406.0" font-size="2.4" fill="#444" font-family="Liberation Sans, sans-serif" text-anchor="end">140</text>
<rect x="175.2" y="401.21" width="1.1" height="0.3" fill="#666"/>
<text x="174.8" y="402.21" font-size="2.4" fill="#444" font-family="Liberation Sans, sans-serif" text-anchor="end">160</text>
<rect x="175.2" y="397.41" width="1.1" height="0.3" fill="#666"/>
<text x="174.8" y="398.41" font-size="2.4" fill="#444" font-family="Liberation Sans, sans-serif" text-anchor="end">180</text>
<rect x="175.2" y="393.62" width="1.1" height="0.3" fill="#666"/>
<text x="174.8" y="394.62" font-size="2.4" fill="#444" font-family="Liberation Sans, sans-serif" text-anchor="end">200</text>
<rect x="175.2" y="389.83" width="1.1" height="0.3" fill="#666"/>
<text x="174.8" y="390.83" font-size="2.4" fill="#444" font-family="Liberation Sans, sans-serif" text-anchor="end">220</text>
<rect x="175.2" y="386.04" width="1.1" height="0.3" fill="#666"/>
<text x="174.8" y="387.04" font-size="2.4" fill="#444" font-family="Liberation Sans, sans-serif" text-anchor="end">240</text>
<rect x="175.2" y="382.24" width="1.1" height="0.3" fill="#666"/>
<text x="174.8" y="383.24" font-size="2.4" fill="#444" font-family="Liberation Sans, sans-serif" text-anchor="end">260</text>
<rect x="175.2" y="378.45" width="1.1" height="0.3" fill="#666"/>
<text x="174.8" y="379.45" font-size="2.4" fill="#444" font-family="Liberation Sans, sans-serif" text-anchor="end">280</text>
<polyline points="177.1,413.0 178.3,409.9 180.2,398.8 184.1,387.5 190.3,385.0 202.9,382.2 215.4,382.8 227.8,385.9 240.5,383.5 253.1,391.2 265.7,397.3 278.3,411.8 290.9,412.7 303.5,412.7 316.2,412.7" fill="none" stroke="#2e9e8a" stroke-width="0.34" opacity="0.85"/>
<path d="M176.6,413.0h0.9M177.9,409.9h0.9M179.7,398.8h0.9M183.6,387.5h0.9M189.9,385.0h0.9M202.5,382.2h0.9M215.0,382.8h0.9M227.4,385.9h0.9M240.0,383.5h0.9M252.6,391.2h0.9M265.2,397.3h0.9M277.9,411.8h0.9M290.5,412.7h0.9M303.1,412.7h0.9M315.7,412.7h0.9" stroke="#2e9e8a" stroke-width="0.75" stroke-linecap="round" opacity="0.75" fill="none"/>
<polyline points="177.1,413.0 178.3,411.2 180.2,402.2 184.1,391.5 190.3,389.6 202.9,388.1 215.4,389.6 227.8,397.3 240.5,409.6 253.1,413.6 265.7,413.6 278.3,413.6 290.9,413.6 303.5,413.6 316.2,413.6" fill="none" stroke="#d0606a" stroke-width="0.34" opacity="0.85"/>
<path d="M176.6,413.0h0.9M177.9,411.2h0.9M179.7,402.2h0.9M183.6,391.5h0.9M189.9,389.6h0.9M202.5,388.1h0.9M215.0,389.6h0.9M227.4,397.3h0.9M240.0,409.6h0.9M252.6,413.6h0.9M265.2,413.6h0.9M277.9,413.6h0.9M290.5,413.6h0.9M303.1,413.6h0.9M315.7,413.6h0.9" stroke="#d0606a" stroke-width="0.75" stroke-linecap="round" opacity="0.75" fill="none"/>
<polyline points="177.1,413.0 178.3,411.8 180.2,406.5 184.1,397.6 190.3,394.5 202.9,392.4 215.4,389.6 227.8,391.2 240.5,392.7 253.1,394.2 265.7,398.2 278.3,411.8 290.9,412.7 303.5,412.7 316.2,412.7" fill="none" stroke="#6a2c2c" stroke-width="0.34" opacity="0.85"/>
<path d="M176.6,413.0h0.9M177.9,411.8h0.9M179.7,406.5h0.9M183.6,397.6h0.9M189.9,394.5h0.9M202.5,392.4h0.9M215.0,389.6h0.9M227.4,391.2h0.9M240.0,392.7h0.9M252.6,394.2h0.9M265.2,398.2h0.9M277.9,411.8h0.9M290.5,412.7h0.9M303.1,412.7h0.9M315.7,412.7h0.9" stroke="#6a2c2c" stroke-width="0.75" stroke-linecap="round" opacity="0.75" fill="none"/>
<polyline points="177.1,413.0 178.3,411.2 180.2,409.9 184.1,408.1 190.3,408.1 202.9,405.0 215.4,410.2 227.8,412.1 240.5,413.6 253.1,413.6 265.7,413.6 278.3,413.6 290.9,413.6 303.5,413.6 316.2,413.6" fill="none" stroke="#3a52b0" stroke-width="0.34" opacity="0.85"/>
<path d="M176.6,413.0h0.9M177.9,411.2h0.9M179.7,409.9h0.9M183.6,408.1h0.9M189.9,408.1h0.9M202.5,405.0h0.9M215.0,410.2h0.9M227.4,412.1h0.9M240.0,413.6h0.9M252.6,413.6h0.9M265.2,413.6h0.9M277.9,413.6h0.9M290.5,413.6h0.9M303.1,413.6h0.9M315.7,413.6h0.9" stroke="#3a52b0" stroke-width="0.75" stroke-linecap="round" opacity="0.75" fill="none"/>
<polyline points="177.1,413.0 178.3,413.0 180.2,413.0 184.1,412.1 190.3,412.1 202.9,412.1 215.4,412.4 227.8,413.0 240.5,413.6 253.1,414.2 265.7,413.6 278.3,413.0 290.9,413.0 303.5,413.0 316.2,413.0" fill="none" stroke="#8a4aa8" stroke-width="0.34" opacity="0.85"/>
<path d="M176.6,413.0h0.9M177.9,413.0h0.9M179.7,413.0h0.9M183.6,412.1h0.9M189.9,412.1h0.9M202.5,412.1h0.9M215.0,412.4h0.9M227.4,413.0h0.9M240.0,413.6h0.9M252.6,414.2h0.9M265.2,413.6h0.9M277.9,413.0h0.9M290.5,413.0h0.9M303.1,413.0h0.9M315.7,413.0h0.9" stroke="#8a4aa8" stroke-width="0.75" stroke-linecap="round" opacity="0.75" fill="none"/>
<path d="M178.3,409.9V400.7M180.2,398.8V383.5M184.1,387.5V377.6M190.3,385.0V377.3M202.9,382.2V378.5M215.4,382.8V379.2M227.8,385.9V381.6M240.5,383.5V379.2M253.1,391.2V387.5M265.7,397.3V391.2M278.3,411.8V409.3M290.9,412.7V410.8M303.5,412.7V410.8M316.2,412.7V410.8" stroke="#2e9e8a" stroke-width="0.4" opacity="0.55" fill="none"/>
<path d="M178.3,411.2V401.9M180.2,402.2V386.8M184.1,391.5V380.7M190.3,389.6V381.0M202.9,388.1V383.8M215.4,389.6V385.3M227.8,397.3V392.4M240.5,409.6V405.9M253.1,413.6V411.8M265.7,413.6V411.8M278.3,413.6V411.8M290.9,413.6V411.8M303.5,413.6V411.8M316.2,413.6V411.8" stroke="#d0606a" stroke-width="0.4" opacity="0.55" fill="none"/>
<path d="M178.3,411.8V407.2M180.2,406.5V398.8M184.1,397.6V388.4M190.3,394.5V385.9M202.9,392.4V386.2M215.4,389.6V385.9M227.8,391.2V386.8M240.5,392.7V389.0M253.1,394.2V390.5M265.7,398.2V392.7M278.3,411.8V409.3M290.9,412.7V410.8M303.5,412.7V410.8M316.2,412.7V410.8" stroke="#6a2c2c" stroke-width="0.4" opacity="0.55" fill="none"/>
<path d="M178.3,411.2V406.5M180.2,409.9V402.2M184.1,408.1V399.5M190.3,408.1V400.4M202.9,405.0V398.8M215.4,410.2V406.5M227.8,412.1V409.6M240.5,413.6V411.8M253.1,413.6V411.8M265.7,413.6V411.8M278.3,413.6V411.8M290.9,413.6V411.8M303.5,413.6V411.8M316.2,413.6V411.8" stroke="#3a52b0" stroke-width="0.4" opacity="0.55" fill="none"/>
<path d="M177.1,413.0V411.2M178.3,413.0V411.2M180.2,413.0V411.2M184.1,412.1V410.2M190.3,412.1V410.2M202.9,412.1V410.2M215.4,412.4V410.5M227.8,413.0V411.2M240.5,413.6V411.8M253.1,414.2V412.4M265.7,413.6V411.8M278.3,413.0V411.2M290.9,413.0V411.2M303.5,413.0V411.2M316.2,413.0V411.2" stroke="#8a4aa8" stroke-width="0.4" opacity="0.55" fill="none"/>
<text x="26.923076923076923" y="282.7" font-size="2.6" fill="#333" font-family="Liberation Sans, sans-serif" text-anchor="middle">0h</text>
<text x="32.15384615384615" y="282.7" font-size="2.6" fill="#333" font-family="Liberation Sans, sans-serif" text-anchor="middle">12h</text>
<text x="38.30769230769231" y="282.7" font-size="2.6" fill="#333" font-family="Liberation Sans, sans-serif" text-anchor="middle">24h</text>
<text x="61.69230769230769" y="282.7" font-size="2.6" fill="#333" font-family="Liberation Sans, sans-serif" text-anchor="middle">120h</text>
<text x="85.38461538461539" y="282.7" font-size="2.6" fill="#333" font-family="Liberation Sans, sans-serif" text-anchor="middle">216h</text>
<text x="109.07692307692308" y="282.7" font-size="2.6" fill="#333" font-family="Liberation Sans, sans-serif" text-anchor="middle">312h</text>
<text x="133.0769230769231" y="282.7" font-size="2.6" fill="#333" font-family="Liberation Sans, sans-serif" text-anchor="middle">408h</text>
<text x="157.07692307692307" y="282.7" font-size="2.6" fill="#333" font-family="Liberation Sans, sans-serif" text-anchor="middle">D113</text>
<text x="26.923076923076923" y="356.8" font-size="2.6" fill="#333" font-family="Liberation Sans, sans-serif" text-anchor="middle">0h</text>
<text x="32.15384615384615" y="356.8" font-size="2.6" fill="#333" font-family="Liberation Sans, sans-serif" text-anchor="middle">12h</text>
<text x="38.30769230769231" y="356.8" font-size="2.6" fill="#333" font-family="Liberation Sans, sans-serif" text-anchor="middle">24h</text>
<text x="61.69230769230769" y="356.8" font-size="2.6" fill="#333" font-family="Liberation Sans, sans-serif" text-anchor="middle">120h</text>
<text x="85.38461538461539" y="356.8" font-size="2.6" fill="#333" font-family="Liberation Sans, sans-serif" text-anchor="middle">216h</text>
<text x="109.07692307692308" y="356.8" font-size="2.6" fill="#333" font-family="Liberation Sans, sans-serif" text-anchor="middle">312h</text>
<text x="133.0769230769231" y="356.8" font-size="2.6" fill="#333" font-family="Liberation Sans, sans-serif" text-anchor="middle">408h</text>
<text x="157.07692307692307" y="356.8" font-size="2.6" fill="#333" font-family="Liberation Sans, sans-serif" text-anchor="middle">D113</text>
<text x="26.923076923076923" y="433.9" font-size="2.6" fill="#333" font-family="Liberation Sans, sans-serif" text-anchor="middle">0h</text>
<text x="32.15384615384615" y="433.9" font-size="2.6" fill="#333" font-family="Liberation Sans, sans-serif" text-anchor="middle">12h</text>
<text x="38.30769230769231" y="433.9" font-size="2.6" fill="#333" font-family="Liberation Sans, sans-serif" text-anchor="middle">24h</text>
<text x="61.69230769230769" y="433.9" font-size="2.6" fill="#333" font-family="Liberation Sans, sans-serif" text-anchor="middle">120h</text>
<text x="85.38461538461539" y="433.9" font-size="2.6" fill="#333" font-family="Liberation Sans, sans-serif" text-anchor="middle">216h</text>
<text x="109.07692307692308" y="433.9" font-size="2.6" fill="#333" font-family="Liberation Sans, sans-serif" text-anchor="middle">312h</text>
<text x="133.0769230769231" y="433.9" font-size="2.6" fill="#333" font-family="Liberation Sans, sans-serif" text-anchor="middle">408h</text>
<text x="157.07692307692307" y="433.9" font-size="2.6" fill="#333" font-family="Liberation Sans, sans-serif" text-anchor="middle">D113</text>
<text x="180.15384615384616" y="283.2" font-size="2.6" fill="#333" font-family="Liberation Sans, sans-serif" text-anchor="middle">0h</text>
<text x="186.0" y="283.2" font-size="2.6" fill="#333" font-family="Liberation Sans, sans-serif" text-anchor="middle">12h</text>
<text x="192.15384615384616" y="283.2" font-size="2.6" fill="#333" font-family="Liberation Sans, sans-serif" text-anchor="middle">24h</text>
<text x="217.0769230769231" y="283.2" font-size="2.6" fill="#333" font-family="Liberation Sans, sans-serif" text-anchor="middle">120h</text>
<text x="241.69230769230768" y="283.2" font-size="2.6" fill="#333" font-family="Liberation Sans, sans-serif" text-anchor="middle">216h</text>
<text x="266.3076923076923" y="283.2" font-size="2.6" fill="#333" font-family="Liberation Sans, sans-serif" text-anchor="middle">312h</text>
<text x="290.9230769230769" y="283.2" font-size="2.6" fill="#333" font-family="Liberation Sans, sans-serif" text-anchor="middle">408h</text>
<text x="314.61538461538464" y="283.2" font-size="2.6" fill="#333" font-family="Liberation Sans, sans-serif" text-anchor="middle">D113</text>
<text x="177.69230769230768" y="359.5" font-size="2.6" fill="#333" font-family="Liberation Sans, sans-serif" text-anchor="middle">0h</text>
<text x="183.84615384615384" y="359.5" font-size="2.6" fill="#333" font-family="Liberation Sans, sans-serif" text-anchor="middle">12h</text>
<text x="190.0" y="359.5" font-size="2.6" fill="#333" font-family="Liberation Sans, sans-serif" text-anchor="middle">24h</text>
<text x="215.23076923076923" y="359.5" font-size="2.6" fill="#333" font-family="Liberation Sans, sans-serif" text-anchor="middle">120h</text>
<text x="240.15384615384616" y="359.5" font-size="2.6" fill="#333" font-family="Liberation Sans, sans-serif" text-anchor="middle">216h</text>
<text x="265.38461538461536" y="359.5" font-size="2.6" fill="#333" font-family="Liberation Sans, sans-serif" text-anchor="middle">312h</text>
<text x="290.9230769230769" y="359.5" font-size="2.6" fill="#333" font-family="Liberation Sans, sans-serif" text-anchor="middle">408h</text>
<text x="316.1538461538462" y="359.5" font-size="2.6" fill="#333" font-family="Liberation Sans, sans-serif" text-anchor="middle">D113</text>
<text x="178.30769230769232" y="437.1" font-size="2.6" fill="#333" font-family="Liberation Sans, sans-serif" text-anchor="middle">0h</text>
<text x="183.84615384615384" y="437.1" font-size="2.6" fill="#333" font-family="Liberation Sans, sans-serif" text-anchor="middle">12h</text>
<text x="190.0" y="437.1" font-size="2.6" fill="#333" font-family="Liberation Sans, sans-serif" text-anchor="middle">24h</text>
<text x="215.23076923076923" y="437.1" font-size="2.6" fill="#333" font-family="Liberation Sans, sans-serif" text-anchor="middle">120h</text>
<text x="240.76923076923077" y="437.1" font-size="2.6" fill="#333" font-family="Liberation Sans, sans-serif" text-anchor="middle">216h</text>
<text x="266.0" y="437.1" font-size="2.6" fill="#333" font-family="Liberation Sans, sans-serif" text-anchor="middle">312h</text>
<text x="290.9230769230769" y="437.1" font-size="2.6" fill="#333" font-family="Liberation Sans, sans-serif" text-anchor="middle">408h</text>
<text x="316.1538461538462" y="437.1" font-size="2.6" fill="#333" font-family="Liberation Sans, sans-serif" text-anchor="middle">D113</text>
<text transform="translate(15.8,250) rotate(-90)" font-size="2.7" fill="#444" font-family="Liberation Sans, sans-serif" text-anchor="middle">SHR-2004 concentration Mean + SD, ng/ml</text>
<text transform="translate(167.8,250) rotate(-90)" font-size="2.7" fill="#444" font-family="Liberation Sans, sans-serif" text-anchor="middle">SHR-2004 concentration Mean + SD, ng/ml</text>
<text transform="translate(15.3,326) rotate(-90)" font-size="2.7" fill="#444" font-family="Liberation Sans, sans-serif" text-anchor="middle">FXI:C ratio to baseline Mean + SD, %</text>
<text transform="translate(167.8,327) rotate(-90)" font-size="2.7" fill="#444" font-family="Liberation Sans, sans-serif" text-anchor="middle">FXI:C ratio to baseline Mean + SD, %</text>
<text transform="translate(15,402.5) rotate(-90)" font-size="2.7" fill="#444" font-family="Liberation Sans, sans-serif" text-anchor="middle">APTT ratio to baseline Mean + SD, %</text>
<text transform="translate(167.8,403.5) rotate(-90)" font-size="2.7" fill="#444" font-family="Liberation Sans, sans-serif" text-anchor="middle">APTT ratio to baseline Mean + SD, %</text>
<text x="93" y="437.5" font-size="2.6" fill="#444" font-family="Liberation Sans, sans-serif" text-anchor="middle">Planned collection time point</text>
<text x="250" y="440.2" font-size="2.6" fill="#444" font-family="Liberation Sans, sans-serif" text-anchor="middle">Planned collection time point</text>
<rect x="30" y="439.1" width="130.6" height="6.1" fill="#fff" stroke="#8c8c8c" stroke-width="0.45"/>
<text x="31.5" y="442.1" font-size="2.5" fill="#222" font-family="Liberation Sans, sans-serif">Treatment Group</text>
<rect x="55.5" y="441.1" width="6" height="0.4" fill="#3a52b0" opacity="0.8"/>
<text x="63.5" y="442.1" font-size="2.5" fill="#222" font-family="Liberation Sans, sans-serif">SHR-2004 0.1 mg/kg i.v.</text>
<rect x="91" y="441.1" width="6" height="0.4" fill="#d0606a" opacity="0.8"/>
<text x="99" y="442.1" font-size="2.5" fill="#222" font-family="Liberation Sans, sans-serif">SHR-2004 0.3 mg/kg i.v.</text>
<rect x="126" y="441.1" width="6" height="0.4" fill="#2e9e8a" opacity="0.8"/>
<text x="134" y="442.1" font-size="2.5" fill="#222" font-family="Liberation Sans, sans-serif">SHR-2004 1 mg/kg i.v.</text>
<rect x="55.5" y="443.7" width="6" height="0.4" fill="#333" opacity="0.8"/>
<text x="63.5" y="444.7" font-size="2.5" fill="#222" font-family="Liberation Sans, sans-serif">Placebo i.v.</text>
<rect x="182.4" y="442.3" width="132.2" height="5.8" fill="#fff" stroke="#8c8c8c" stroke-width="0.45"/>
<text x="183.8" y="445.2" font-size="2.5" fill="#222" font-family="Liberation Sans, sans-serif">Treatment Group</text>
<rect x="207.8" y="444.2" width="7.5" height="0.4" fill="#3a52b0" opacity="0.8"/>
<text x="217.3" y="445.2" font-size="2.5" fill="#222" font-family="Liberation Sans, sans-serif">SHR-2004 0.5 mg/kg s.c.</text>
<rect x="244.5" y="444.2" width="7.5" height="0.4" fill="#d0606a" opacity="0.8"/>
<text x="254" y="445.2" font-size="2.5" fill="#222" font-family="Liberation Sans, sans-serif">SHR-2004 1 mg/kg s.c.</text>
<rect x="279.7" y="444.2" width="7.5" height="0.4" fill="#2e9e8a" opacity="0.8"/>
<text x="289.2" y="445.2" font-size="2.5" fill="#222" font-family="Liberation Sans, sans-serif">SHR-2004 3 mg/kg s.c.</text>
<rect x="207.8" y="446.7" width="7.5" height="0.4" fill="#333" opacity="0.8"/>
<text x="217.3" y="447.7" font-size="2.5" fill="#222" font-family="Liberation Sans, sans-serif">SHR-2004 4.5 mg/kg s.c.</text>
<rect x="244.5" y="446.7" width="7.5" height="0.4" fill="#8a4aa8" opacity="0.8"/>
<text x="254" y="447.7" font-size="2.5" fill="#222" font-family="Liberation Sans, sans-serif">Placebo s.c.</text>
<rect x="340.4" y="221.3" width="43.6" height="6.299999999999983" fill="#487dc0"/>
<rect x="385.4" y="221.3" width="131.20000000000005" height="6.299999999999983" fill="#487dc0"/>
<text x="451.0" y="226.088" font-size="4.55" fill="#fff" font-family="Liberation Sans, sans-serif" font-weight="bold" text-anchor="middle">SHR-2004 i.v.</text>
<rect x="340.4" y="228.6" width="43.6" height="15.700000000000017" fill="#487dc0"/>
<rect x="385.4" y="228.6" width="41.700000000000024" height="15.700000000000017" fill="#d0d8e8"/>
<text x="387.4" y="234.1" font-size="4.55" fill="#151515" font-family="Liberation Sans, sans-serif" stroke="#151515" stroke-width="0.1">0.1 mg/kg</text>
<text x="387.4" y="239.0" font-size="4.55" fill="#151515" font-family="Liberation Sans, sans-serif" stroke="#151515" stroke-width="0.1">n=6</text>
<rect x="428.5" y="228.6" width="44.49999999999998" height="15.700000000000017" fill="#d0d8e8"/>
<text x="430.5" y="234.1" font-size="4.55" fill="#151515" font-family="Liberation Sans, sans-serif" stroke="#151515" stroke-width="0.1">0.3 mg/kg</text>
<text x="430.5" y="239.0" font-size="4.55" fill="#151515" font-family="Liberation Sans, sans-serif" stroke="#151515" stroke-width="0.1">n=6</text>
<rect x="474.4" y="228.6" width="42.200000000000045" height="15.700000000000017" fill="#d0d8e8"/>
<text x="476.4" y="234.1" font-size="4.55" fill="#151515" font-family="Liberation Sans, sans-serif" stroke="#151515" stroke-width="0.1">1.0 mg/kg</text>
<text x="476.4" y="239.0" font-size="4.55" fill="#151515" font-family="Liberation Sans, sans-serif" stroke="#151515" stroke-width="0.1">n=6</text>
<rect x="340.4" y="245.4" width="43.6" height="7.099999999999994" fill="#487dc0"/>
<text x="362.9" y="250.679" font-size="4.4135" fill="#fff" font-family="Liberation Sans, sans-serif" font-weight="bold" text-anchor="middle">C<tspan font-size="70%" dy="0.8">max</tspan><tspan dy="-0.8"> (ng/ml)</tspan></text>
<rect x="385.4" y="245.4" width="41.700000000000024" height="7.099999999999994" fill="#e9edf4"/>
<text x="406.95" y="250.68" font-size="4.55" fill="#151515" font-family="Liberation Sans, sans-serif" text-anchor="middle" stroke="#151515" stroke-width="0.1">2090 (424)</text>
<rect x="428.5" y="245.4" width="44.49999999999998" height="7.099999999999994" fill="#e9edf4"/>
<text x="451.45" y="250.68" font-size="4.55" fill="#151515" font-family="Liberation Sans, sans-serif" text-anchor="middle" stroke="#151515" stroke-width="0.1">7190 (819)</text>
<rect x="474.4" y="245.4" width="42.200000000000045" height="7.099999999999994" fill="#e9edf4"/>
<text x="495.5" y="250.68" font-size="4.55" fill="#151515" font-family="Liberation Sans, sans-serif" text-anchor="middle" stroke="#151515" stroke-width="0.1">23200 (1500)</text>
<rect x="340.4" y="253.57" width="43.6" height="7.100000000000023" fill="#487dc0"/>
<text x="362.9" y="258.849" font-size="4.4135" fill="#fff" font-family="Liberation Sans, sans-serif" font-weight="bold" text-anchor="middle">AUC<tspan font-size="70%" dy="0.8">0-t</tspan><tspan dy="-0.8"> (h·mg/ml)</tspan></text>
<rect x="385.4" y="253.57" width="41.700000000000024" height="7.100000000000023" fill="#d0d8e8"/>
<text x="406.95" y="258.85" font-size="4.55" fill="#151515" font-family="Liberation Sans, sans-serif" text-anchor="middle" stroke="#151515" stroke-width="0.1">0.545 (0.119)</text>
<rect x="428.5" y="253.57" width="44.49999999999998" height="7.100000000000023" fill="#d0d8e8"/>
<text x="451.45" y="258.85" font-size="4.55" fill="#151515" font-family="Liberation Sans, sans-serif" text-anchor="middle" stroke="#151515" stroke-width="0.1">1.67 (0.334)</text>
<rect x="474.4" y="253.57" width="42.200000000000045" height="7.100000000000023" fill="#d0d8e8"/>
<text x="495.5" y="258.85" font-size="4.55" fill="#151515" font-family="Liberation Sans, sans-serif" text-anchor="middle" stroke="#151515" stroke-width="0.1">6.70 (0.719)</text>
<rect x="340.4" y="261.74" width="43.6" height="7.100000000000023" fill="#487dc0"/>
<text x="362.9" y="267.019" font-size="4.4135" fill="#fff" font-family="Liberation Sans, sans-serif" font-weight="bold" text-anchor="middle">AUC<tspan font-size="70%" dy="0.8">0-∞</tspan><tspan dy="-0.8"> (h·mg/ml)</tspan></text>
<rect x="385.4" y="261.74" width="41.700000000000024" height="7.100000000000023" fill="#e9edf4"/>
<text x="406.95" y="267.02" font-size="4.55" fill="#151515" font-family="Liberation Sans, sans-serif" text-anchor="middle" stroke="#151515" stroke-width="0.1">0.680 (0.112)</text>
<rect x="428.5" y="261.74" width="44.49999999999998" height="7.100000000000023" fill="#e9edf4"/>
<text x="451.45" y="267.02" font-size="4.55" fill="#151515" font-family="Liberation Sans, sans-serif" text-anchor="middle" stroke="#151515" stroke-width="0.1">1.83 (0.344)</text>
<rect x="474.4" y="261.74" width="42.200000000000045" height="7.100000000000023" fill="#e9edf4"/>
<text x="495.5" y="267.02" font-size="4.55" fill="#151515" font-family="Liberation Sans, sans-serif" text-anchor="middle" stroke="#151515" stroke-width="0.1">6.85 (0.708)</text>
<rect x="340.4" y="269.91" width="43.6" height="7.100000000000023" fill="#487dc0"/>
<text x="362.9" y="275.189" font-size="4.4135" fill="#fff" font-family="Liberation Sans, sans-serif" font-weight="bold" text-anchor="middle">t<tspan font-size="70%" dy="0.8">max</tspan><tspan dy="-0.8"> (h)</tspan></text>
<rect x="385.4" y="269.91" width="41.700000000000024" height="7.100000000000023" fill="#d0d8e8"/>
<text x="406.95" y="275.19" font-size="4.55" fill="#151515" font-family="Liberation Sans, sans-serif" text-anchor="middle" stroke="#151515" stroke-width="0.1">1.76 (0.73~2.82)</text>
<rect x="428.5" y="269.91" width="44.49999999999998" height="7.100000000000023" fill="#d0d8e8"/>
<text x="451.45" y="275.19" font-size="4.55" fill="#151515" font-family="Liberation Sans, sans-serif" text-anchor="middle" stroke="#151515" stroke-width="0.1">2.68 (0.73~2.77)</text>
<rect x="474.4" y="269.91" width="42.200000000000045" height="7.100000000000023" fill="#d0d8e8"/>
<text x="495.5" y="275.19" font-size="4.55" fill="#151515" font-family="Liberation Sans, sans-serif" text-anchor="middle" stroke="#151515" stroke-width="0.1">2.79 (2.67~6.78)</text>
<rect x="340.4" y="278.08" width="43.6" height="7.100000000000023" fill="#487dc0"/>
<text x="362.9" y="283.359" font-size="4.4135" fill="#fff" font-family="Liberation Sans, sans-serif" font-weight="bold" text-anchor="middle">t<tspan font-size="70%" dy="0.8">1/2</tspan><tspan dy="-0.8"> (h)</tspan></text>
<rect x="385.4" y="278.08" width="41.700000000000024" height="7.100000000000023" fill="#e9edf4"/>
<text x="406.95" y="283.36" font-size="4.55" fill="#151515" font-family="Liberation Sans, sans-serif" text-anchor="middle" stroke="#151515" stroke-width="0.1">317 (68.4)</text>
<rect x="428.5" y="278.08" width="44.49999999999998" height="7.100000000000023" fill="#e9edf4"/>
<text x="451.45" y="283.36" font-size="4.55" fill="#151515" font-family="Liberation Sans, sans-serif" text-anchor="middle" stroke="#151515" stroke-width="0.1">298 (102)</text>
<rect x="474.4" y="278.08" width="42.200000000000045" height="7.100000000000023" fill="#e9edf4"/>
<text x="495.5" y="283.36" font-size="4.55" fill="#151515" font-family="Liberation Sans, sans-serif" text-anchor="middle" stroke="#151515" stroke-width="0.1">310 (64.2)</text>
<rect x="340.4" y="286.25" width="43.6" height="7.100000000000023" fill="#487dc0"/>
<text x="362.9" y="291.529" font-size="4.4135" fill="#fff" font-family="Liberation Sans, sans-serif" font-weight="bold" text-anchor="middle">V<tspan font-size="70%" dy="0.8">z</tspan><tspan dy="-0.8"> (l)</tspan></text>
<rect x="385.4" y="286.25" width="41.700000000000024" height="7.100000000000023" fill="#d0d8e8"/>
<text x="406.95" y="291.53" font-size="4.55" fill="#151515" font-family="Liberation Sans, sans-serif" text-anchor="middle" stroke="#151515" stroke-width="0.1">3.84 (0.648)</text>
<rect x="428.5" y="286.25" width="44.49999999999998" height="7.100000000000023" fill="#d0d8e8"/>
<text x="451.45" y="291.53" font-size="4.55" fill="#151515" font-family="Liberation Sans, sans-serif" text-anchor="middle" stroke="#151515" stroke-width="0.1">4.61 (0.894)</text>
<rect x="474.4" y="286.25" width="42.200000000000045" height="7.100000000000023" fill="#d0d8e8"/>
<text x="495.5" y="291.53" font-size="4.55" fill="#151515" font-family="Liberation Sans, sans-serif" text-anchor="middle" stroke="#151515" stroke-width="0.1">3.82 (0.854)</text>
<rect x="340.4" y="294.42" width="43.6" height="7.100000000000023" fill="#487dc0"/>
<text x="362.9" y="299.699" font-size="4.4135" fill="#fff" font-family="Liberation Sans, sans-serif" font-weight="bold" text-anchor="middle">CL (L/h)</text>
<rect x="385.4" y="294.42" width="41.700000000000024" height="7.100000000000023" fill="#e9edf4"/>
<text x="406.95" y="299.7" font-size="4.55" fill="#151515" font-family="Liberation Sans, sans-serif" text-anchor="middle" stroke="#151515" stroke-width="0.1">0.0100 (0)</text>
<rect x="428.5" y="294.42" width="44.49999999999998" height="7.100000000000023" fill="#e9edf4"/>
<text x="451.45" y="299.7" font-size="4.55" fill="#151515" font-family="Liberation Sans, sans-serif" text-anchor="middle" stroke="#151515" stroke-width="0.1">0.0100 (0)</text>
<rect x="474.4" y="294.42" width="42.200000000000045" height="7.100000000000023" fill="#e9edf4"/>
<text x="495.5" y="299.7" font-size="4.55" fill="#151515" font-family="Liberation Sans, sans-serif" text-anchor="middle" stroke="#151515" stroke-width="0.1">0.0100 (0)</text>
<rect x="340.4" y="328.1" width="36.3" height="4.199999999999989" fill="#487dc0"/>
<rect x="377.9" y="328.1" width="138.70000000000005" height="4.199999999999989" fill="#487dc0"/>
<text x="447.25" y="331.53200000000004" font-size="3.6999999999999886" fill="#fff" font-family="Liberation Sans, sans-serif" font-weight="bold" text-anchor="middle">SHR-2004 s.c.</text>
<rect x="340.4" y="333.5" width="36.3" height="15.199999999999989" fill="#487dc0"/>
<rect x="377.9" y="333.5" width="33.20000000000003" height="15.199999999999989" fill="#d0d8e8"/>
<text x="380.2" y="337.8" font-size="4.2" fill="#151515" font-family="Liberation Sans, sans-serif" stroke="#151515" stroke-width="0.1">0.5 mg/kg</text>
<text x="380.2" y="343.1" font-size="4.2" fill="#151515" font-family="Liberation Sans, sans-serif" stroke="#151515" stroke-width="0.1">n=8</text>
<rect x="412.3" y="333.5" width="33.499999999999986" height="15.199999999999989" fill="#d0d8e8"/>
<text x="414.6" y="337.8" font-size="4.2" fill="#151515" font-family="Liberation Sans, sans-serif" stroke="#151515" stroke-width="0.1">1.0 mg/kg</text>
<text x="414.6" y="343.1" font-size="4.2" fill="#151515" font-family="Liberation Sans, sans-serif" stroke="#151515" stroke-width="0.1">n=8</text>
<rect x="447" y="333.5" width="33.3" height="15.199999999999989" fill="#d0d8e8"/>
<text x="449.3" y="337.8" font-size="4.2" fill="#151515" font-family="Liberation Sans, sans-serif" stroke="#151515" stroke-width="0.1">3.0 mg/kg</text>
<text x="449.3" y="343.1" font-size="4.2" fill="#151515" font-family="Liberation Sans, sans-serif" stroke="#151515" stroke-width="0.1">n=8</text>
<rect x="481.5" y="333.5" width="35.10000000000002" height="15.199999999999989" fill="#d0d8e8"/>
<text x="483.8" y="337.8" font-size="4.2" fill="#151515" font-family="Liberation Sans, sans-serif" stroke="#151515" stroke-width="0.1">4.5 mg/kg</text>
<text x="483.8" y="343.1" font-size="4.2" fill="#151515" font-family="Liberation Sans, sans-serif" stroke="#151515" stroke-width="0.1">n=8</text>
<rect x="340.4" y="350.2" width="36.3" height="6.600000000000023" fill="#487dc0"/>
<text x="359.15" y="355.096" font-size="4.074" fill="#fff" font-family="Liberation Sans, sans-serif" font-weight="bold" text-anchor="middle">C<tspan font-size="70%" dy="0.8">max</tspan><tspan dy="-0.8"> (ng/ml)</tspan></text>
<rect x="377.9" y="350.2" width="33.20000000000003" height="6.600000000000023" fill="#e9edf4"/>
<text x="395.1" y="355.1" font-size="4.2" fill="#151515" font-family="Liberation Sans, sans-serif" text-anchor="middle" stroke="#151515" stroke-width="0.1">3800 (461)</text>
<rect x="412.3" y="350.2" width="33.499999999999986" height="6.600000000000023" fill="#e9edf4"/>
<text x="429.65" y="355.1" font-size="4.2" fill="#151515" font-family="Liberation Sans, sans-serif" text-anchor="middle" stroke="#151515" stroke-width="0.1">7250 (2060)</text>
<rect x="447" y="350.2" width="33.3" height="6.600000000000023" fill="#e9edf4"/>
<text x="464.25" y="355.1" font-size="4.2" fill="#151515" font-family="Liberation Sans, sans-serif" text-anchor="middle" stroke="#151515" stroke-width="0.1">27100 (7130)</text>
<rect x="481.5" y="350.2" width="35.10000000000002" height="6.600000000000023" fill="#e9edf4"/>
<text x="499.05" y="355.1" font-size="4.2" fill="#151515" font-family="Liberation Sans, sans-serif" text-anchor="middle" stroke="#151515" stroke-width="0.1">29100 (8300)</text>
<rect x="340.4" y="358.1" width="36.3" height="6.599999999999966" fill="#487dc0"/>
<text x="359.15" y="362.996" font-size="4.074" fill="#fff" font-family="Liberation Sans, sans-serif" font-weight="bold" text-anchor="middle">AUC<tspan font-size="70%" dy="0.8">0-t</tspan><tspan dy="-0.8"> (h·mg/ml)</tspan></text>
<rect x="377.9" y="358.1" width="33.20000000000003" height="6.599999999999966" fill="#d0d8e8"/>
<text x="395.1" y="363.0" font-size="4.2" fill="#151515" font-family="Liberation Sans, sans-serif" text-anchor="middle" stroke="#151515" stroke-width="0.1">2.20 (0.349)</text>
<rect x="412.3" y="358.1" width="33.499999999999986" height="6.599999999999966" fill="#d0d8e8"/>
<text x="429.65" y="363.0" font-size="4.2" fill="#151515" font-family="Liberation Sans, sans-serif" text-anchor="middle" stroke="#151515" stroke-width="0.1">4.03 (0.741)</text>
<rect x="447" y="358.1" width="33.3" height="6.599999999999966" fill="#d0d8e8"/>
<text x="464.25" y="363.0" font-size="4.2" fill="#151515" font-family="Liberation Sans, sans-serif" text-anchor="middle" stroke="#151515" stroke-width="0.1">14.2 (2.05)</text>
<rect x="481.5" y="358.1" width="35.10000000000002" height="6.599999999999966" fill="#d0d8e8"/>
<text x="499.05" y="363.0" font-size="4.2" fill="#151515" font-family="Liberation Sans, sans-serif" text-anchor="middle" stroke="#151515" stroke-width="0.1">18.4 (3.88)</text>
<rect x="340.4" y="365.9" width="36.3" height="6.7000000000000455" fill="#487dc0"/>
<text x="359.15" y="370.846" font-size="4.074" fill="#fff" font-family="Liberation Sans, sans-serif" font-weight="bold" text-anchor="middle">AUC<tspan font-size="70%" dy="0.8">0-∞</tspan><tspan dy="-0.8"> (h·mg/ml)</tspan></text>
<rect x="377.9" y="365.9" width="33.20000000000003" height="6.7000000000000455" fill="#e9edf4"/>
<text x="395.1" y="370.85" font-size="4.2" fill="#151515" font-family="Liberation Sans, sans-serif" text-anchor="middle" stroke="#151515" stroke-width="0.1">2.33 (0.386)</text>
<rect x="412.3" y="365.9" width="33.499999999999986" height="6.7000000000000455" fill="#e9edf4"/>
<text x="429.65" y="370.85" font-size="4.2" fill="#151515" font-family="Liberation Sans, sans-serif" text-anchor="middle" stroke="#151515" stroke-width="0.1">4.23 (0.772)</text>
<rect x="447" y="365.9" width="33.3" height="6.7000000000000455" fill="#e9edf4"/>
<text x="464.25" y="370.85" font-size="4.2" fill="#151515" font-family="Liberation Sans, sans-serif" text-anchor="middle" stroke="#151515" stroke-width="0.1">14.4 (2.05)</text>
<rect x="481.5" y="365.9" width="35.10000000000002" height="6.7000000000000455" fill="#e9edf4"/>
<text x="499.05" y="370.85" font-size="4.2" fill="#151515" font-family="Liberation Sans, sans-serif" text-anchor="middle" stroke="#151515" stroke-width="0.1">18.7 (3.90)</text>
<rect x="340.4" y="373.9" width="36.3" height="16.900000000000034" fill="#487dc0"/>
<text x="359.15" y="383.946" font-size="4.074" fill="#fff" font-family="Liberation Sans, sans-serif" font-weight="bold" text-anchor="middle">t<tspan font-size="70%" dy="0.8">max</tspan><tspan dy="-0.8"> (h)</tspan></text>
<rect x="377.9" y="373.9" width="33.20000000000003" height="16.900000000000034" fill="#d0d8e8"/>
<text x="395.1" y="378.65" font-size="4.2" fill="#151515" font-family="Liberation Sans, sans-serif" text-anchor="middle" stroke="#151515" stroke-width="0.1">156.42</text>
<text x="395.1" y="383.95" font-size="4.2" fill="#151515" font-family="Liberation Sans, sans-serif" text-anchor="middle" stroke="#151515" stroke-width="0.1">(72.03~338.</text>
<text x="395.1" y="389.25" font-size="4.2" fill="#151515" font-family="Liberation Sans, sans-serif" text-anchor="middle" stroke="#151515" stroke-width="0.1">13)</text>
<rect x="412.3" y="373.9" width="33.499999999999986" height="16.900000000000034" fill="#d0d8e8"/>
<text x="429.65" y="378.65" font-size="4.2" fill="#151515" font-family="Liberation Sans, sans-serif" text-anchor="middle" stroke="#151515" stroke-width="0.1">156.36</text>
<text x="429.65" y="383.95" font-size="4.2" fill="#151515" font-family="Liberation Sans, sans-serif" text-anchor="middle" stroke="#151515" stroke-width="0.1">(71.78~338.4</text>
<text x="429.65" y="389.25" font-size="4.2" fill="#151515" font-family="Liberation Sans, sans-serif" text-anchor="middle" stroke="#151515" stroke-width="0.1">5)</text>
<rect x="447" y="373.9" width="33.3" height="16.900000000000034" fill="#d0d8e8"/>
<text x="464.25" y="378.65" font-size="4.2" fill="#151515" font-family="Liberation Sans, sans-serif" text-anchor="middle" stroke="#151515" stroke-width="0.1">95.73</text>
<text x="464.25" y="383.95" font-size="4.2" fill="#151515" font-family="Liberation Sans, sans-serif" text-anchor="middle" stroke="#151515" stroke-width="0.1">(23.93~191.</text>
<text x="464.25" y="389.25" font-size="4.2" fill="#151515" font-family="Liberation Sans, sans-serif" text-anchor="middle" stroke="#151515" stroke-width="0.1">47)</text>
<rect x="481.5" y="373.9" width="35.10000000000002" height="16.900000000000034" fill="#d0d8e8"/>
<text x="499.05" y="378.65" font-size="4.2" fill="#151515" font-family="Liberation Sans, sans-serif" text-anchor="middle" stroke="#151515" stroke-width="0.1">156.16</text>
<text x="499.05" y="383.95" font-size="4.2" fill="#151515" font-family="Liberation Sans, sans-serif" text-anchor="middle" stroke="#151515" stroke-width="0.1">(71.77~192.</text>
<text x="499.05" y="389.25" font-size="4.2" fill="#151515" font-family="Liberation Sans, sans-serif" text-anchor="middle" stroke="#151515" stroke-width="0.1">92)</text>
<rect x="340.4" y="392.3" width="36.3" height="6.599999999999966" fill="#487dc0"/>
<text x="359.15" y="397.196" font-size="4.074" fill="#fff" font-family="Liberation Sans, sans-serif" font-weight="bold" text-anchor="middle">t<tspan font-size="70%" dy="0.8">1/2</tspan><tspan dy="-0.8"> (h)</tspan></text>
<rect x="377.9" y="392.3" width="33.20000000000003" height="6.599999999999966" fill="#e9edf4"/>
<text x="395.1" y="397.2" font-size="4.2" fill="#151515" font-family="Liberation Sans, sans-serif" text-anchor="middle" stroke="#151515" stroke-width="0.1">282 (50.1)</text>
<rect x="412.3" y="392.3" width="33.499999999999986" height="6.599999999999966" fill="#e9edf4"/>
<text x="429.65" y="397.2" font-size="4.2" fill="#151515" font-family="Liberation Sans, sans-serif" text-anchor="middle" stroke="#151515" stroke-width="0.1">268 (42.5)</text>
<rect x="447" y="392.3" width="33.3" height="6.599999999999966" fill="#e9edf4"/>
<text x="464.25" y="397.2" font-size="4.2" fill="#151515" font-family="Liberation Sans, sans-serif" text-anchor="middle" stroke="#151515" stroke-width="0.1">281 (26.1)</text>
<rect x="481.5" y="392.3" width="35.10000000000002" height="6.599999999999966" fill="#e9edf4"/>
<text x="499.05" y="397.2" font-size="4.2" fill="#151515" font-family="Liberation Sans, sans-serif" text-anchor="middle" stroke="#151515" stroke-width="0.1">285 (34.7)</text>
<rect x="340.4" y="400.1" width="36.3" height="6.5" fill="#487dc0"/>
<text x="359.15" y="404.946" font-size="4.074" fill="#fff" font-family="Liberation Sans, sans-serif" font-weight="bold" text-anchor="middle">V<tspan font-size="70%" dy="0.8">z</tspan><tspan dy="-0.8"> (l)</tspan></text>
<rect x="377.9" y="400.1" width="33.20000000000003" height="6.5" fill="#d0d8e8"/>
<text x="395.1" y="404.95" font-size="4.2" fill="#151515" font-family="Liberation Sans, sans-serif" text-anchor="middle" stroke="#151515" stroke-width="0.1">5.82 (0.895)</text>
<rect x="412.3" y="400.1" width="33.499999999999986" height="6.5" fill="#d0d8e8"/>
<text x="429.65" y="404.95" font-size="4.2" fill="#151515" font-family="Liberation Sans, sans-serif" text-anchor="middle" stroke="#151515" stroke-width="0.1">6.42 (1.17)</text>
<rect x="447" y="400.1" width="33.3" height="6.5" fill="#d0d8e8"/>
<text x="464.25" y="404.95" font-size="4.2" fill="#151515" font-family="Liberation Sans, sans-serif" text-anchor="middle" stroke="#151515" stroke-width="0.1">5.58 (1.23)</text>
<rect x="481.5" y="400.1" width="35.10000000000002" height="6.5" fill="#d0d8e8"/>
<text x="499.05" y="404.95" font-size="4.2" fill="#151515" font-family="Liberation Sans, sans-serif" text-anchor="middle" stroke="#151515" stroke-width="0.1">6.85 (1.12)</text>
<rect x="340.4" y="407.8" width="36.3" height="11.300000000000011" fill="#487dc0"/>
<text x="359.15" y="415.04600000000005" font-size="4.074" fill="#fff" font-family="Liberation Sans, sans-serif" font-weight="bold" text-anchor="middle">CL (L/h)</text>
<rect x="377.9" y="407.8" width="33.20000000000003" height="11.300000000000011" fill="#e9edf4"/>
<text x="395.1" y="412.45" font-size="4.2" fill="#151515" font-family="Liberation Sans, sans-serif" text-anchor="middle" stroke="#151515" stroke-width="0.1">0.0125</text>
<text x="395.1" y="417.65" font-size="4.2" fill="#151515" font-family="Liberation Sans, sans-serif" text-anchor="middle" stroke="#151515" stroke-width="0.1">(0.00463)</text>
<rect x="412.3" y="407.8" width="33.499999999999986" height="11.300000000000011" fill="#e9edf4"/>
<text x="429.65" y="412.45" font-size="4.2" fill="#151515" font-family="Liberation Sans, sans-serif" text-anchor="middle" stroke="#151515" stroke-width="0.1">0.0163</text>
<text x="429.65" y="417.65" font-size="4.2" fill="#151515" font-family="Liberation Sans, sans-serif" text-anchor="middle" stroke="#151515" stroke-width="0.1">(0.00518)</text>
<rect x="447" y="407.8" width="33.3" height="11.300000000000011" fill="#e9edf4"/>
<text x="464.25" y="412.45" font-size="4.2" fill="#151515" font-family="Liberation Sans, sans-serif" text-anchor="middle" stroke="#151515" stroke-width="0.1">0.0138</text>
<text x="464.25" y="417.65" font-size="4.2" fill="#151515" font-family="Liberation Sans, sans-serif" text-anchor="middle" stroke="#151515" stroke-width="0.1">(0.00518)</text>
<rect x="481.5" y="407.8" width="35.10000000000002" height="11.300000000000011" fill="#e9edf4"/>
<text x="499.05" y="412.45" font-size="4.2" fill="#151515" font-family="Liberation Sans, sans-serif" text-anchor="middle" stroke="#151515" stroke-width="0.1">0.0175</text>
<text x="499.05" y="417.65" font-size="4.2" fill="#151515" font-family="Liberation Sans, sans-serif" text-anchor="middle" stroke="#151515" stroke-width="0.1">(0.00463)</text>
</svg>
</body></html>
